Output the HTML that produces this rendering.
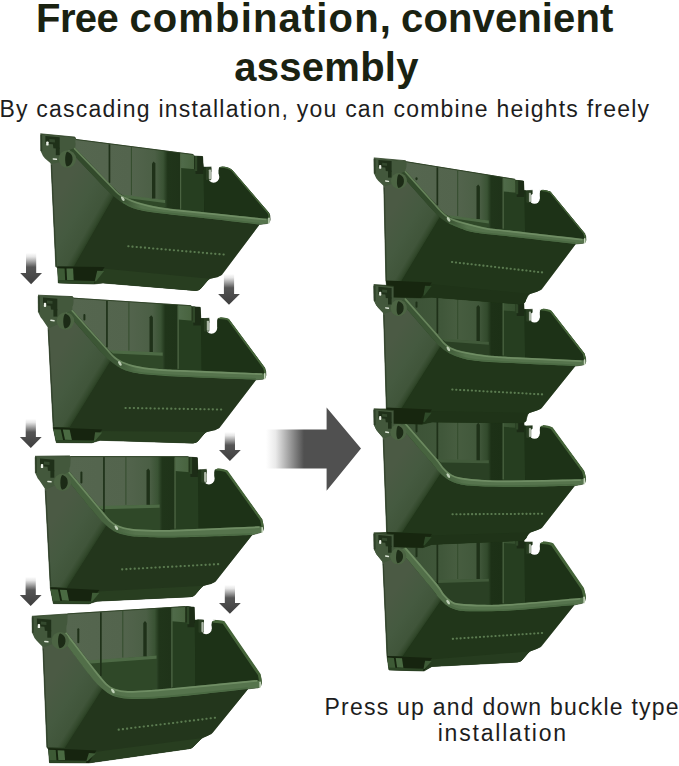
<!DOCTYPE html>
<html><head><meta charset="utf-8"><title>Free combination</title>
<style>
html,body{margin:0;padding:0;background:#fff}
body{width:679px;height:766px;position:relative;overflow:hidden;font-family:"Liberation Sans",sans-serif}
.t{position:absolute;white-space:nowrap;line-height:1}
.h{font-size:40px;font-weight:bold;color:#1a2211;letter-spacing:0.45px}
.s{font-size:23px;color:#1d1d1d;letter-spacing:1.23px}
svg{position:absolute;left:0;top:0}
</style></head><body>
<svg width="679" height="766" viewBox="0 0 679 766">
<g id="L1"><defs><linearGradient id="pL0lf" gradientUnits="userSpaceOnUse" x1="94.2" y1="231.2" x2="52.5" y2="207.4"><stop offset="0" stop-color="#293f22"/><stop offset="0.05" stop-color="#33492c"/><stop offset="0.15" stop-color="#40553a"/><stop offset="0.5" stop-color="#455a40"/><stop offset="1" stop-color="#4b5a44"/></linearGradient><linearGradient id="pL0bk" gradientUnits="userSpaceOnUse" x1="76.0" y1="0" x2="203.3" y2="0"><stop offset="0" stop-color="#55664f"/><stop offset="0.43" stop-color="#53644d"/><stop offset="0.62" stop-color="#4b5f45"/><stop offset="0.685" stop-color="#3a5334"/><stop offset="0.72" stop-color="#20351a"/><stop offset="0.815" stop-color="#1f3319"/><stop offset="0.822" stop-color="#506b4a"/><stop offset="0.925" stop-color="#48633f"/><stop offset="0.93" stop-color="#17260f"/><stop offset="1" stop-color="#17260f"/></linearGradient><linearGradient id="pL0rm" gradientUnits="userSpaceOnUse" x1="118.3" y1="0" x2="141.1" y2="0"><stop offset="0" stop-color="#324a2b"/><stop offset="1" stop-color="#56744d"/></linearGradient></defs>
<polygon points="51.0,163.0 66.6,159.3 75.0,147.8 76.0,139.5 193.0,154.5 194.6,156.0 202.6,156.5 203.3,167.0 205.9,167.2 218.5,166.6 232.0,170.0 269.0,213.1 269.9,215.8 270.2,219.5 269.1,222.6 267.0,223.5 259.3,224.5 221.5,275.0 209.0,278.8 200.0,289.0 196.0,290.5 103.0,283.0 94.0,284.0 58.3,283.0 57.5,267.0 55.8,266.8" fill="#23361c" stroke="#23361c" stroke-width="0.6" stroke-linejoin="round"/>
<polygon points="76.0,139.5 193.0,154.5 194.6,156.0 202.6,156.5 203.3,167.0 205.9,167.2 205.9,218.6 266.0,218.6 190.0,210.8 160.0,207.3 137.1,201.8 125.3,196.8 118.3,192.4 109.4,183.3 75.0,147.8" fill="url(#pL0bk)" />
<polygon points="121.9,195.7 165.1,199.9 165.1,208.9 160.0,208.3 137.1,202.8 125.3,197.8 118.3,193.4" fill="#2f4828" />
<path d="M122.9,194.7 L165.1,199.9 L165.1,203.1 L126.4,197.9Z" fill="#4d6a45" stroke="none" stroke-width="1" />
<polygon points="180.6,168.0 204.3,170.0 204.3,213.3 180.6,210.7" fill="#263e20" />
<rect x="108.6" y="144.3" width="1.7" height="38.5" fill="#1f3119"/>
<rect x="130.9" y="147.1" width="1" height="48.0" fill="#344c2d"/>
<path d="M152.0,198.4 L152.0,163.5 L153.7,161.5 L155.4,163.5 L155.4,198.4Z" fill="#1f3119"/>
<rect x="180.0" y="153.9" width="1.2" height="54.8" fill="#4a6341"/>
<path d="M203.3,167.0 L205.9,167.2 L218.5,169.6 Q218.5,166.6 221.5,166.6 Q229.0,166.9 232.0,170.0 L269.0,213.1 Q270.1,216.5 269.8,219.0 L266.0,218.6 L204.3,213.3 Z" fill="#1d3217" stroke="none" stroke-width="1" />
<path d="M220.5,167.2 Q229.0,167.5 232.0,170.6 L268.4,213.3 Q269.4,216.5 269.2,218.5" fill="none" stroke="#456439" stroke-width="1.3" stroke-linecap="round"/>
<polygon points="194.6,156.0 202.6,156.5 203.3,167.0 203.3,174.0 195.6,174.0" fill="#1c2c16" />
<rect x="194.6" y="156.0" width="2.6" height="15.0" fill="#2f4728"/>
<rect x="211.4" y="163.6" width="7.1" height="13.4" fill="#fff"/>
<circle cx="213.6" cy="177.0" r="5.7" fill="#fff"/>
<path d="M217.9,165.4 L221.7,165.4 L221.7,166.5 Q218.5,166.6 218.4,169.8 L217.9,169.8Z" fill="#fff"/>
<rect x="205.9" y="167.2" width="5.4" height="13.0" rx="1.2" fill="#2a3f23"/>
<rect x="208.8" y="169.4" width="2.3" height="10.0" rx="0.8" fill="#aeb9a9"/>
<polygon points="51.0,163.0 66.6,159.3 69.0,150.0 104.0,187.0 113.6,196.2 114.5,195.5 74.0,266.8 55.8,266.8" fill="url(#pL0lf)" />
<path d="M51.5,165.0 L56.3,266.3" fill="none" stroke="#1f3019" stroke-width="1.1" opacity="0.55"/>
<path d="M114.5,195.5 L113.6,196.2 C115.2,197.4 119.8,201.2 123.0,203.2 C126.2,205.1 128.5,206.7 133.0,208.2 C137.5,209.6 140.5,210.5 150.0,211.9 C159.5,213.3 171.8,214.5 190.0,216.6 C208.2,218.7 247.8,223.2 259.3,224.5 L222.0,274.0 Q220.5,276.0 217.5,277.2 L210.0,278.8 Q208.0,279.3 207.0,281.3 L201.0,288.5 Q199.0,291.0 195.0,290.7 L103.0,283.0 L94.0,283.0 L58.5,269.0 L55.8,266.8 L74.0,266.8 Z" fill="#23361c" stroke="none" stroke-width="1" />
<polygon points="102.6,268.6 210.0,278.8 207.0,281.3 200.5,288.8 198.0,290.4 195.0,290.7 103.0,283.0 94.0,284.0" fill="#283e20" />
<rect x="127.3" y="245.2" width="2.2" height="2.1" rx="0.8" fill="#5b7b50"/><rect x="131.4" y="245.6" width="2.2" height="2.1" rx="0.8" fill="#5b7b50"/><rect x="135.6" y="245.9" width="2.2" height="2.1" rx="0.8" fill="#5b7b50"/><rect x="139.7" y="246.3" width="2.2" height="2.1" rx="0.8" fill="#5b7b50"/><rect x="143.9" y="246.6" width="2.2" height="2.1" rx="0.8" fill="#5b7b50"/><rect x="148.0" y="247.0" width="2.2" height="2.1" rx="0.8" fill="#5b7b50"/><rect x="152.1" y="247.4" width="2.2" height="2.1" rx="0.8" fill="#5b7b50"/><rect x="156.3" y="247.7" width="2.2" height="2.1" rx="0.8" fill="#5b7b50"/><rect x="160.4" y="248.1" width="2.2" height="2.1" rx="0.8" fill="#5b7b50"/><rect x="164.6" y="248.4" width="2.2" height="2.1" rx="0.8" fill="#5b7b50"/><rect x="168.7" y="248.8" width="2.2" height="2.1" rx="0.8" fill="#5b7b50"/><rect x="172.8" y="249.2" width="2.2" height="2.1" rx="0.8" fill="#5b7b50"/><rect x="177.0" y="249.5" width="2.2" height="2.1" rx="0.8" fill="#5b7b50"/><rect x="181.1" y="249.9" width="2.2" height="2.1" rx="0.8" fill="#5b7b50"/><rect x="185.2" y="250.3" width="2.2" height="2.1" rx="0.8" fill="#5b7b50"/><rect x="189.4" y="250.6" width="2.2" height="2.1" rx="0.8" fill="#5b7b50"/><rect x="193.5" y="251.0" width="2.2" height="2.1" rx="0.8" fill="#5b7b50"/><rect x="197.7" y="251.3" width="2.2" height="2.1" rx="0.8" fill="#5b7b50"/><rect x="201.8" y="251.7" width="2.2" height="2.1" rx="0.8" fill="#5b7b50"/><rect x="205.9" y="252.1" width="2.2" height="2.1" rx="0.8" fill="#5b7b50"/><rect x="210.1" y="252.4" width="2.2" height="2.1" rx="0.8" fill="#5b7b50"/><rect x="214.2" y="252.8" width="2.2" height="2.1" rx="0.8" fill="#5b7b50"/><rect x="218.4" y="253.1" width="2.2" height="2.1" rx="0.8" fill="#5b7b50"/><rect x="222.5" y="253.5" width="2.2" height="2.1" rx="0.8" fill="#5b7b50"/>
<polygon points="57.5,266.5 104.6,267.1 94.0,284.0 58.3,283.0" fill="#16240f" />
<polygon points="57.6,268.3 64.6,268.4 65.2,280.8 58.2,280.6" fill="#3d5a35" />
<polygon points="66.5,268.4 73.1,268.5 73.7,280.2 67.1,280.0" fill="#4a6a42" />
<polygon points="58.2,280.1 94.9,281.0 94.1,284.0 58.3,283.0" fill="#2d4626" />
<polygon points="97.2,270.8 104.1,270.9 95.9,281.4 94.7,281.4" fill="#3f5c37" />
<polygon points="40.4,133.8 74.9,137.1 76.0,139.5 75.0,147.8 83.6,156.7 77.8,159.2 69.0,150.0 66.6,159.3 59.6,162.3 51.5,164.0 45.0,158.5 43.0,156.0 40.6,151.0" fill="#43583c" />
<path d="M75.0,147.8 C80.7,153.7 102.2,175.9 109.4,183.3 C116.6,190.7 115.7,190.2 118.3,192.4 C121.0,194.7 122.2,195.2 125.3,196.8 C128.4,198.4 131.3,200.1 137.1,201.8 C142.9,203.6 151.2,205.8 160.0,207.3 C168.8,208.8 172.3,208.9 190.0,210.8 C207.7,212.7 253.3,217.3 266.0,218.6 Q270.2,217.8 270.2,220.2 Q270.4,223.2 267.0,223.5 L259.3,224.5 L259.3,224.5 C247.8,223.2 208.2,218.7 190.0,216.6 C171.8,214.5 159.5,213.3 150.0,211.9 C140.5,210.5 137.5,209.6 133.0,208.2 C128.5,206.7 126.2,205.1 123.0,203.2 C119.8,201.2 116.8,198.9 113.6,196.2 C110.4,193.5 111.4,194.7 104.0,187.0 C96.6,179.3 74.8,156.2 69.0,150.0 Z" fill="url(#pL0rm)" stroke="none" stroke-width="1" />
<path d="M123.0,202.2 C124.7,203.1 128.5,205.8 133.0,207.3 C137.5,208.7 140.5,209.6 150.0,211.0 C159.5,212.4 171.8,213.6 190.0,215.7 C208.2,217.8 247.8,222.3 259.3,223.6" fill="none" stroke="#496841" stroke-width="1.6" opacity="0.8"/>
<path d="M74.6,148.7 C80.3,154.6 101.8,176.8 109.0,184.2 C116.2,191.6 115.2,191.1 117.9,193.3 C120.6,195.6 121.8,196.1 124.9,197.7 C128.0,199.3 130.9,201.0 136.7,202.7 C142.5,204.5 150.8,206.7 159.6,208.2 C168.4,209.7 171.9,209.8 189.6,211.7 C207.3,213.6 252.9,218.2 265.6,219.5" fill="none" stroke="#7a986e" stroke-width="1.7" stroke-linecap="round" opacity="0.7"/>
<ellipse cx="122.8" cy="198.7" rx="1.3" ry="2.6" transform="rotate(-35 122.8 198.7)" fill="#d5e3cc" opacity="0.85"/>
<rect x="268.2" y="217.5" width="1.5" height="6.2" rx="0.7" fill="#d5e3cc" opacity="0.9"/>
<circle cx="67.4" cy="159.0" r="8.7" fill="#4c6443"/>
<path d="M68.0,152.1 A7.7,7.7 0 0 1 66.8,166.6 A2.2,7.3 0 0 1 68.0,152.1Z" fill="#1c2b16"/>
<polygon points="45.4,136.0 59.7,137.3 59.7,148.8 53.4,148.2 52.9,144.3 45.4,143.8" fill="#1f3019" />
<rect x="55.8" y="147.8" width="3.9" height="7.4" fill="#1f3019"/>
<polygon points="49.4,139.0 54.9,139.6 54.9,142.4 49.4,142.0" fill="#34492e" />
<rect x="46.2" y="141.4" width="2.4" height="4.2" rx="0.9" fill="#eef3ea"/>
<rect x="52.6" y="158.3" width="4.6" height="1.5" rx="0.7" fill="#dfe8da" transform="rotate(8 54.4 158.8)"/>
<path d="M41.1,134.8 L41.3,151.0" fill="none" stroke="#1f3019" stroke-width="2.0" opacity="0.6"/>
<path d="M40.4,133.8 L74.9,137.1 L76.0,139.5 L193.0,154.5" fill="none" stroke="#2a3e22" stroke-width="1.0" opacity="0.8"/></g>
<g id="L2"><defs><linearGradient id="pL1lf" gradientUnits="userSpaceOnUse" x1="90.6" y1="393.6" x2="49.7" y2="368.5"><stop offset="0" stop-color="#293f22"/><stop offset="0.05" stop-color="#33492c"/><stop offset="0.15" stop-color="#40553a"/><stop offset="0.5" stop-color="#455a40"/><stop offset="1" stop-color="#4b5a44"/></linearGradient><linearGradient id="pL1bk" gradientUnits="userSpaceOnUse" x1="73.6" y1="0" x2="200.8" y2="0"><stop offset="0" stop-color="#55664f"/><stop offset="0.43" stop-color="#53644d"/><stop offset="0.62" stop-color="#4b5f45"/><stop offset="0.685" stop-color="#3a5334"/><stop offset="0.72" stop-color="#20351a"/><stop offset="0.815" stop-color="#1f3319"/><stop offset="0.822" stop-color="#506b4a"/><stop offset="0.925" stop-color="#48633f"/><stop offset="0.93" stop-color="#17260f"/><stop offset="1" stop-color="#17260f"/></linearGradient><linearGradient id="pL1rm" gradientUnits="userSpaceOnUse" x1="114.9" y1="0" x2="138.6" y2="0"><stop offset="0" stop-color="#3c5635"/><stop offset="1" stop-color="#56744d"/></linearGradient></defs>
<polygon points="48.0,327.6 64.7,321.3 72.6,309.9 73.6,298.2 190.8,305.7 192.4,306.7 200.2,307.3 200.8,318.6 203.9,318.6 217.1,317.6 228.6,319.3 264.7,367.9 265.7,371.4 266.0,375.1 264.8,378.3 262.7,379.2 255.9,379.8 219.1,428.0 205.6,432.1 197.2,441.6 193.2,443.1 100.0,440.3 91.9,442.8 56.3,442.6 53.2,428.0 53.2,426.9" fill="#23361c" stroke="#23361c" stroke-width="0.6" stroke-linejoin="round"/>
<polygon points="73.6,298.2 190.8,305.7 192.4,306.7 200.2,307.3 200.8,318.6 203.9,318.6 203.9,373.3 261.7,373.3 187.1,370.3 157.1,368.8 134.6,365.4 122.4,361.4 114.9,356.6 105.0,345.9 72.6,309.9" fill="url(#pL1bk)" />
<polygon points="108.4,351.3 162.7,352.5 162.7,370.0 157.1,369.8 134.6,366.4 122.4,362.4 114.9,357.6 105.0,346.9" fill="#2f4828" />
<path d="M109.4,350.3 L162.7,352.5 L162.7,355.7 L112.9,353.5Z" fill="#4d6a45" stroke="none" stroke-width="1" />
<polygon points="178.2,319.6 201.8,321.6 201.8,371.9 178.2,370.8" fill="#263e20" />
<rect x="106.1" y="300.8" width="1.7" height="46.7" fill="#1f3119"/>
<rect x="83.4" y="313.9" width="2" height="6.6" rx="1" fill="#1f3119"/>
<rect x="128.4" y="302.3" width="1" height="48.3" fill="#344c2d"/>
<path d="M149.5,352.0 L149.5,317.2 L151.2,315.2 L152.9,317.2 L152.9,352.0Z" fill="#1f3119"/>
<rect x="177.6" y="305.9" width="1.2" height="62.9" fill="#4a6341"/>
<path d="M200.8,318.6 L203.9,318.6 L217.1,320.6 Q217.1,317.6 220.1,317.6 Q225.6,317.9 228.6,319.3 L264.7,367.9 Q265.9,372.1 265.6,374.6 L261.7,373.3 L201.8,371.9 Z" fill="#1d3217" stroke="none" stroke-width="1" />
<path d="M219.1,318.2 Q225.6,318.5 228.6,319.9 L264.1,368.1 Q265.2,372.1 265.0,374.1" fill="none" stroke="#456439" stroke-width="1.8352124352331607" stroke-linecap="round"/>
<polygon points="192.4,306.7 200.2,307.3 200.8,318.6 200.8,325.6 193.4,325.6" fill="#1c2c16" />
<rect x="192.4" y="306.7" width="2.6" height="15.9" fill="#2f4728"/>
<rect x="209.3" y="314.6" width="7.8" height="13.4" fill="#fff"/>
<circle cx="211.5" cy="328.0" r="5.7" fill="#fff"/>
<path d="M216.5,316.4 L220.3,316.4 L220.3,317.5 Q217.1,317.6 217.0,320.8 L216.5,320.8Z" fill="#fff"/>
<rect x="203.9" y="318.6" width="5.4" height="13.0" rx="1.2" fill="#2a3f23"/>
<rect x="206.8" y="320.8" width="2.3" height="10.0" rx="0.8" fill="#aeb9a9"/>
<polygon points="48.0,327.6 64.7,321.3 66.4,312.5 99.5,350.2 110.3,361.0 111.3,360.1 69.9,427.2 53.2,426.9" fill="url(#pL1lf)" />
<path d="M48.5,329.6 L53.7,426.4" fill="none" stroke="#1f3019" stroke-width="1.1" opacity="0.55"/>
<path d="M111.3,360.1 L110.3,361.0 C111.9,362.1 116.6,366.1 120.2,368.0 C123.8,369.9 126.8,371.1 131.9,372.2 C136.9,373.4 141.2,373.9 150.4,374.7 C159.6,375.5 169.5,376.2 187.1,377.1 C204.7,377.9 244.5,379.4 255.9,379.8 L219.6,427.0 Q218.1,429.0 215.1,430.2 L206.6,432.1 Q204.6,432.6 203.6,434.6 L198.2,441.1 Q196.2,443.6 192.2,443.3 L100.0,440.3 L91.9,441.8 L54.2,430.0 L53.2,426.9 L69.9,427.2 Z" fill="#23361c" stroke="none" stroke-width="1" />
<polygon points="100.3,431.0 206.6,432.1 203.6,434.6 197.7,441.4 195.2,443.0 192.2,443.3 100.0,440.3 91.9,442.8" fill="#283e20" />
<rect x="124.5" y="406.9" width="2.2" height="2.1" rx="0.8" fill="#5b7b50"/><rect x="128.7" y="407.0" width="2.2" height="2.1" rx="0.8" fill="#5b7b50"/><rect x="132.8" y="407.0" width="2.2" height="2.1" rx="0.8" fill="#5b7b50"/><rect x="137.0" y="407.1" width="2.2" height="2.1" rx="0.8" fill="#5b7b50"/><rect x="141.1" y="407.2" width="2.2" height="2.1" rx="0.8" fill="#5b7b50"/><rect x="145.3" y="407.2" width="2.2" height="2.1" rx="0.8" fill="#5b7b50"/><rect x="149.4" y="407.3" width="2.2" height="2.1" rx="0.8" fill="#5b7b50"/><rect x="153.6" y="407.4" width="2.2" height="2.1" rx="0.8" fill="#5b7b50"/><rect x="157.7" y="407.4" width="2.2" height="2.1" rx="0.8" fill="#5b7b50"/><rect x="161.9" y="407.5" width="2.2" height="2.1" rx="0.8" fill="#5b7b50"/><rect x="166.0" y="407.6" width="2.2" height="2.1" rx="0.8" fill="#5b7b50"/><rect x="170.2" y="407.6" width="2.2" height="2.1" rx="0.8" fill="#5b7b50"/><rect x="174.3" y="407.7" width="2.2" height="2.1" rx="0.8" fill="#5b7b50"/><rect x="178.5" y="407.8" width="2.2" height="2.1" rx="0.8" fill="#5b7b50"/><rect x="182.7" y="407.8" width="2.2" height="2.1" rx="0.8" fill="#5b7b50"/><rect x="186.8" y="407.9" width="2.2" height="2.1" rx="0.8" fill="#5b7b50"/><rect x="191.0" y="408.0" width="2.2" height="2.1" rx="0.8" fill="#5b7b50"/><rect x="195.1" y="408.0" width="2.2" height="2.1" rx="0.8" fill="#5b7b50"/><rect x="199.3" y="408.1" width="2.2" height="2.1" rx="0.8" fill="#5b7b50"/><rect x="203.4" y="408.2" width="2.2" height="2.1" rx="0.8" fill="#5b7b50"/><rect x="207.6" y="408.2" width="2.2" height="2.1" rx="0.8" fill="#5b7b50"/><rect x="211.7" y="408.3" width="2.2" height="2.1" rx="0.8" fill="#5b7b50"/><rect x="215.9" y="408.4" width="2.2" height="2.1" rx="0.8" fill="#5b7b50"/><rect x="220.0" y="408.4" width="2.2" height="2.1" rx="0.8" fill="#5b7b50"/>
<polygon points="53.2,427.5 102.3,429.5 91.9,442.8 56.3,442.6" fill="#16240f" />
<polygon points="53.4,429.2 60.8,429.4 63.2,440.5 55.8,440.4" fill="#3d5a35" />
<polygon points="62.8,429.5 69.7,429.8 71.9,439.9 65.0,439.8" fill="#4a6a42" />
<polygon points="55.7,440.0 94.0,440.4 93.6,442.8 56.3,442.6" fill="#2d4626" />
<polygon points="95.1,432.3 102.2,432.5 95.1,440.7 93.9,440.7" fill="#3f5c37" />
<polygon points="38.0,295.2 72.5,296.6 73.6,298.2 72.6,309.9 80.7,318.9 74.7,321.9 66.4,312.5 64.7,321.3 57.7,324.3 48.5,328.6 42.6,319.7 40.6,317.2 38.2,312.2" fill="#43583c" />
<path d="M72.6,309.9 C78.0,315.9 97.9,338.1 105.0,345.9 C112.0,353.7 112.0,354.1 114.9,356.6 C117.8,359.2 119.1,359.9 122.4,361.4 C125.7,362.8 128.8,364.2 134.6,365.4 C140.4,366.7 148.3,368.0 157.1,368.8 C165.8,369.6 169.7,369.5 187.1,370.3 C204.5,371.0 249.3,372.8 261.7,373.3 Q266.0,373.4 266.0,375.8 Q266.2,378.9 262.7,379.2 L255.9,379.8 L255.9,379.8 C244.5,379.4 204.7,377.9 187.1,377.1 C169.5,376.2 159.6,375.5 150.4,374.7 C141.2,373.9 136.9,373.4 131.9,372.2 C126.8,371.1 123.8,369.9 120.2,368.0 C116.6,366.1 113.7,363.9 110.3,361.0 C106.8,358.0 106.8,358.3 99.5,350.2 C92.2,342.1 71.9,318.8 66.4,312.5 Z" fill="url(#pL1rm)" stroke="none" stroke-width="1" />
<path d="M120.2,367.1 C122.1,367.8 126.8,370.2 131.9,371.3 C136.9,372.5 141.2,373.0 150.4,373.8 C159.6,374.6 169.5,375.3 187.1,376.2 C204.7,377.0 244.5,378.5 255.9,378.9" fill="none" stroke="#496841" stroke-width="1.6" opacity="0.8"/>
<path d="M72.2,310.8 C77.6,316.8 97.5,339.0 104.6,346.8 C111.6,354.6 111.6,355.0 114.5,357.5 C117.4,360.1 118.7,360.8 122.0,362.3 C125.3,363.7 128.4,365.1 134.2,366.3 C140.0,367.6 147.9,368.9 156.7,369.7 C165.4,370.5 169.3,370.4 186.7,371.2 C204.1,371.9 248.9,373.7 261.3,374.2" fill="none" stroke="#7a986e" stroke-width="1.7" stroke-linecap="round" opacity="0.7"/>
<ellipse cx="119.9" cy="363.4" rx="1.3" ry="2.6" transform="rotate(-35 119.9 363.4)" fill="#d5e3cc" opacity="0.85"/>
<rect x="264.0" y="373.1" width="1.5" height="6.3" rx="0.7" fill="#d5e3cc" opacity="0.9"/>
<circle cx="65.5" cy="321.0" r="8.7" fill="#4c6443"/>
<path d="M66.1,314.1 A7.7,7.7 0 0 1 64.9,328.6 A2.2,7.3 0 0 1 66.1,314.1Z" fill="#1c2b16"/>
<polygon points="43.0,297.4 57.3,298.7 57.3,310.2 51.0,309.6 50.5,305.7 43.0,305.2" fill="#1f3019" />
<rect x="53.4" y="309.2" width="3.9" height="7.4" fill="#1f3019"/>
<polygon points="47.0,300.4 52.5,301.0 52.5,303.8 47.0,303.4" fill="#34492e" />
<rect x="43.8" y="302.8" width="2.4" height="4.2" rx="0.9" fill="#eef3ea"/>
<rect x="50.2" y="319.7" width="4.6" height="1.5" rx="0.7" fill="#dfe8da" transform="rotate(8 52.0 320.2)"/>
<path d="M38.7,296.2 L38.9,312.2" fill="none" stroke="#1f3019" stroke-width="2.0" opacity="0.6"/>
<path d="M38.0,295.2 L72.5,296.6 L73.6,298.2 L190.8,305.7" fill="none" stroke="#2a3e22" stroke-width="1.0" opacity="0.8"/></g>
<g id="L3"><defs><linearGradient id="pL2lf" gradientUnits="userSpaceOnUse" x1="87.2" y1="556.1" x2="46.7" y2="530.4"><stop offset="0" stop-color="#293f22"/><stop offset="0.05" stop-color="#33492c"/><stop offset="0.15" stop-color="#40553a"/><stop offset="0.5" stop-color="#455a40"/><stop offset="1" stop-color="#4b5a44"/></linearGradient><linearGradient id="pL2bk" gradientUnits="userSpaceOnUse" x1="70.6" y1="0" x2="197.8" y2="0"><stop offset="0" stop-color="#55664f"/><stop offset="0.43" stop-color="#53644d"/><stop offset="0.62" stop-color="#4b5f45"/><stop offset="0.685" stop-color="#3a5334"/><stop offset="0.72" stop-color="#20351a"/><stop offset="0.815" stop-color="#1f3319"/><stop offset="0.822" stop-color="#506b4a"/><stop offset="0.925" stop-color="#48633f"/><stop offset="0.93" stop-color="#17260f"/><stop offset="1" stop-color="#17260f"/></linearGradient><linearGradient id="pL2rm" gradientUnits="userSpaceOnUse" x1="110.8" y1="0" x2="135.5" y2="0"><stop offset="0" stop-color="#47633f"/><stop offset="1" stop-color="#56744d"/></linearGradient></defs>
<polygon points="45.1,488.7 61.8,482.4 69.7,471.8 70.6,456.6 187.9,456.7 189.5,457.1 197.3,457.7 197.8,469.9 201.2,469.7 214.2,468.8 226.7,470.9 261.8,519.5 263.2,525.2 263.5,528.9 261.8,531.9 259.7,532.8 252.0,534.9 215.2,581.7 202.7,585.8 194.3,595.3 190.3,596.8 97.0,601.2 89.0,603.8 53.4,603.6 50.3,588.0 50.3,586.9" fill="#23361c" stroke="#23361c" stroke-width="0.6" stroke-linejoin="round"/>
<polygon points="70.6,456.6 187.9,456.7 189.5,457.1 197.3,457.7 197.8,469.9 201.2,469.7 201.2,526.3 259.2,526.3 183.6,529.4 153.6,529.9 131.5,528.8 118.9,525.6 110.8,520.6 99.9,508.1 69.7,471.8" fill="url(#pL2bk)" />
<polygon points="97.0,507.0 159.6,504.6 159.6,530.8 153.6,530.9 131.5,529.8 118.9,526.6 110.8,521.6 99.9,509.1" fill="#2f4828" />
<path d="M98.0,506.0 L159.6,504.6 L159.6,507.8 L101.5,509.2Z" fill="#4d6a45" stroke="none" stroke-width="1" />
<polygon points="175.1,470.9 198.8,472.9 198.8,529.8 175.1,530.6" fill="#263e20" />
<rect x="103.1" y="457.1" width="1.7" height="55.1" fill="#1f3119"/>
<rect x="80.4" y="471.6" width="2" height="11.8" rx="1" fill="#1f3119"/>
<rect x="125.4" y="457.1" width="1" height="47.7" fill="#344c2d"/>
<path d="M146.5,504.8 L146.5,470.6 L148.2,468.6 L149.9,470.6 L149.9,504.8Z" fill="#1f3119"/>
<rect x="174.5" y="457.7" width="1.2" height="70.9" fill="#4a6341"/>
<path d="M197.8,469.9 L201.2,469.7 L214.2,471.8 Q214.2,468.8 217.2,468.8 Q223.7,469.1 226.7,470.9 L261.8,519.5 Q263.4,525.9 263.1,528.4 L259.2,526.3 L198.8,529.8 Z" fill="#1d3217" stroke="none" stroke-width="1" />
<path d="M216.2,469.4 Q223.7,469.7 226.7,471.5 L261.2,519.7 Q262.7,525.9 262.5,527.9" fill="none" stroke="#456439" stroke-width="2.3694300518134717" stroke-linecap="round"/>
<polygon points="189.5,457.1 197.3,457.7 197.8,469.9 197.8,476.9 190.5,476.9" fill="#1c2c16" />
<rect x="189.5" y="457.1" width="2.6" height="16.8" fill="#2f4728"/>
<rect x="206.7" y="465.8" width="7.5" height="13.0" fill="#fff"/>
<circle cx="208.9" cy="478.8" r="5.7" fill="#fff"/>
<path d="M213.6,467.6 L217.4,467.6 L217.4,468.7 Q214.2,468.8 214.1,472.0 L213.6,472.0Z" fill="#fff"/>
<rect x="201.2" y="469.7" width="5.4" height="13.0" rx="1.2" fill="#2a3f23"/>
<rect x="204.1" y="471.9" width="2.3" height="10.0" rx="0.8" fill="#aeb9a9"/>
<polygon points="45.1,488.7 61.8,482.4 63.3,474.7 94.5,513.0 106.3,525.5 107.4,524.3 67.0,587.9 50.3,586.9" fill="url(#pL2lf)" />
<path d="M45.6,490.7 L50.8,586.4" fill="none" stroke="#1f3019" stroke-width="1.1" opacity="0.55"/>
<path d="M107.4,524.3 L106.3,525.5 C108.1,526.6 112.8,530.8 116.7,532.5 C120.7,534.3 124.5,535.2 130.1,536.0 C135.7,536.8 141.4,537.0 150.3,537.2 C159.2,537.4 166.7,537.6 183.6,537.2 C200.5,536.8 240.6,535.3 252.0,534.9 L215.7,580.7 Q214.2,582.7 211.2,583.9 L203.7,585.8 Q201.7,586.3 200.7,588.3 L195.3,594.8 Q193.3,597.3 189.3,597.0 L97.0,601.2 L89.0,602.8 L51.3,590.0 L50.3,586.9 L67.0,587.9 Z" fill="#23361c" stroke="none" stroke-width="1" />
<polygon points="97.4,591.4 203.7,585.8 200.7,588.3 194.8,595.1 192.3,596.7 189.3,597.0 97.0,601.2 89.0,603.8" fill="#283e20" />
<rect x="121.1" y="568.3" width="2.2" height="2.1" rx="0.8" fill="#5b7b50"/><rect x="125.3" y="568.1" width="2.2" height="2.1" rx="0.8" fill="#5b7b50"/><rect x="129.4" y="567.8" width="2.2" height="2.1" rx="0.8" fill="#5b7b50"/><rect x="133.6" y="567.6" width="2.2" height="2.1" rx="0.8" fill="#5b7b50"/><rect x="137.8" y="567.4" width="2.2" height="2.1" rx="0.8" fill="#5b7b50"/><rect x="141.9" y="567.2" width="2.2" height="2.1" rx="0.8" fill="#5b7b50"/><rect x="146.1" y="566.9" width="2.2" height="2.1" rx="0.8" fill="#5b7b50"/><rect x="150.3" y="566.7" width="2.2" height="2.1" rx="0.8" fill="#5b7b50"/><rect x="154.4" y="566.5" width="2.2" height="2.1" rx="0.8" fill="#5b7b50"/><rect x="158.6" y="566.3" width="2.2" height="2.1" rx="0.8" fill="#5b7b50"/><rect x="162.8" y="566.0" width="2.2" height="2.1" rx="0.8" fill="#5b7b50"/><rect x="166.9" y="565.8" width="2.2" height="2.1" rx="0.8" fill="#5b7b50"/><rect x="171.1" y="565.6" width="2.2" height="2.1" rx="0.8" fill="#5b7b50"/><rect x="175.3" y="565.4" width="2.2" height="2.1" rx="0.8" fill="#5b7b50"/><rect x="179.5" y="565.1" width="2.2" height="2.1" rx="0.8" fill="#5b7b50"/><rect x="183.6" y="564.9" width="2.2" height="2.1" rx="0.8" fill="#5b7b50"/><rect x="187.8" y="564.7" width="2.2" height="2.1" rx="0.8" fill="#5b7b50"/><rect x="192.0" y="564.5" width="2.2" height="2.1" rx="0.8" fill="#5b7b50"/><rect x="196.1" y="564.2" width="2.2" height="2.1" rx="0.8" fill="#5b7b50"/><rect x="200.3" y="564.0" width="2.2" height="2.1" rx="0.8" fill="#5b7b50"/><rect x="204.5" y="563.8" width="2.2" height="2.1" rx="0.8" fill="#5b7b50"/><rect x="208.6" y="563.6" width="2.2" height="2.1" rx="0.8" fill="#5b7b50"/><rect x="212.8" y="563.3" width="2.2" height="2.1" rx="0.8" fill="#5b7b50"/><rect x="217.0" y="563.1" width="2.2" height="2.1" rx="0.8" fill="#5b7b50"/>
<polygon points="50.3,587.5 99.4,589.9 89.0,603.8 53.4,603.6" fill="#16240f" />
<polygon points="50.5,589.2 57.9,589.6 60.3,601.3 52.9,601.3" fill="#3d5a35" />
<polygon points="59.9,589.7 66.8,590.0 69.0,600.7 62.1,600.6" fill="#4a6a42" />
<polygon points="52.8,600.8 91.1,601.3 90.7,603.8 53.4,603.6" fill="#2d4626" />
<polygon points="92.2,592.8 99.3,593.1 92.2,601.6 91.0,601.6" fill="#3f5c37" />
<polygon points="35.0,456.3 69.6,455.9 70.6,456.6 69.7,471.8 77.2,480.9 71.1,484.3 63.3,474.7 61.8,482.4 54.8,485.4 45.6,489.7 39.6,480.7 37.6,478.2 35.2,473.0" fill="#43583c" />
<path d="M69.7,471.8 C74.7,477.8 93.1,500.0 99.9,508.1 C106.8,516.3 107.7,517.7 110.8,520.6 C114.0,523.5 115.5,524.3 118.9,525.6 C122.3,527.0 125.7,528.1 131.5,528.8 C137.3,529.5 144.9,529.8 153.6,529.9 C162.3,530.0 166.0,530.0 183.6,529.4 C201.2,528.8 246.6,526.8 259.2,526.3 Q263.5,527.2 263.5,529.6 Q263.7,532.5 259.7,532.8 L252.0,534.9 L252.0,534.9 C240.6,535.3 200.5,536.8 183.6,537.2 C166.7,537.6 159.2,537.4 150.3,537.2 C141.4,537.0 135.7,536.8 130.1,536.0 C124.5,535.2 120.7,534.3 116.7,532.5 C112.8,530.8 110.0,528.7 106.3,525.5 C102.6,522.2 101.6,521.5 94.5,513.0 C87.3,504.6 68.5,481.1 63.3,474.7 Z" fill="url(#pL2rm)" stroke="none" stroke-width="1" />
<path d="M116.7,531.6 C119.0,532.2 124.5,534.3 130.1,535.1 C135.7,535.9 141.4,536.1 150.3,536.3 C159.2,536.5 166.7,536.7 183.6,536.3 C200.5,535.9 240.6,534.4 252.0,534.0" fill="none" stroke="#496841" stroke-width="1.6" opacity="0.8"/>
<path d="M69.3,472.7 C74.3,478.7 92.7,500.9 99.5,509.0 C106.4,517.2 107.3,518.6 110.4,521.5 C113.6,524.4 115.1,525.2 118.5,526.5 C121.9,527.9 125.3,529.0 131.1,529.7 C136.9,530.4 144.5,530.7 153.2,530.8 C161.9,530.9 165.6,530.9 183.2,530.3 C200.8,529.7 246.2,527.7 258.8,527.2" fill="none" stroke="#7a986e" stroke-width="1.7" stroke-linecap="round" opacity="0.7"/>
<ellipse cx="116.4" cy="527.7" rx="1.3" ry="2.6" transform="rotate(-35 116.4 527.7)" fill="#d5e3cc" opacity="0.85"/>
<rect x="261.5" y="526.9" width="1.5" height="6.1" rx="0.7" fill="#d5e3cc" opacity="0.9"/>
<circle cx="62.6" cy="482.1" r="8.7" fill="#4c6443"/>
<path d="M63.2,475.2 A7.7,7.7 0 0 1 62.0,489.7 A2.2,7.3 0 0 1 63.2,475.2Z" fill="#1c2b16"/>
<polygon points="40.0,458.5 54.3,459.8 54.3,471.3 48.0,470.7 47.5,466.8 40.0,466.3" fill="#1f3019" />
<rect x="50.4" y="470.3" width="3.9" height="7.4" fill="#1f3019"/>
<polygon points="44.0,461.5 49.5,462.1 49.5,464.9 44.0,464.5" fill="#34492e" />
<rect x="40.8" y="463.9" width="2.4" height="4.2" rx="0.9" fill="#eef3ea"/>
<rect x="47.2" y="480.8" width="4.6" height="1.5" rx="0.7" fill="#dfe8da" transform="rotate(8 49.0 481.3)"/>
<path d="M35.7,457.3 L35.9,473.0" fill="none" stroke="#1f3019" stroke-width="2.0" opacity="0.6"/>
<path d="M35.0,456.3 L69.6,455.9 L70.6,456.6 L187.9,456.7" fill="none" stroke="#2a3e22" stroke-width="1.0" opacity="0.8"/></g>
<g id="L4"><defs><linearGradient id="pL3lf" gradientUnits="userSpaceOnUse" x1="84.2" y1="717.8" x2="43.8" y2="692.0"><stop offset="0" stop-color="#293f22"/><stop offset="0.05" stop-color="#33492c"/><stop offset="0.15" stop-color="#40553a"/><stop offset="0.5" stop-color="#455a40"/><stop offset="1" stop-color="#4b5a44"/></linearGradient><linearGradient id="pL3bk" gradientUnits="userSpaceOnUse" x1="67.5" y1="0" x2="194.6" y2="0"><stop offset="0" stop-color="#55664f"/><stop offset="0.43" stop-color="#53644d"/><stop offset="0.62" stop-color="#4b5f45"/><stop offset="0.685" stop-color="#3a5334"/><stop offset="0.72" stop-color="#20351a"/><stop offset="0.815" stop-color="#1f3319"/><stop offset="0.822" stop-color="#506b4a"/><stop offset="0.925" stop-color="#48633f"/><stop offset="0.93" stop-color="#17260f"/><stop offset="1" stop-color="#17260f"/></linearGradient><linearGradient id="pL3rm" gradientUnits="userSpaceOnUse" x1="106.7" y1="0" x2="132.3" y2="0"><stop offset="0" stop-color="#526f49"/><stop offset="1" stop-color="#56744d"/></linearGradient></defs>
<polygon points="42.8,646.6 59.5,641.0 66.6,632.5 67.5,613.9 185.0,606.6 186.6,606.5 194.2,607.2 194.6,620.2 198.5,619.8 211.5,620.6 223.4,621.7 259.8,674.3 261.1,679.8 261.4,683.5 260.1,686.9 258.0,687.8 247.9,688.9 211.8,733.5 201.6,738.0 192.5,747.3 188.5,748.8 92.0,762.5 88.9,762.9 49.5,762.7 48.4,748.7 46.9,747.4" fill="#23361c" stroke="#23361c" stroke-width="0.6" stroke-linejoin="round"/>
<polygon points="67.5,613.9 185.0,606.6 186.6,606.5 194.2,607.2 194.6,620.2 198.5,619.8 198.5,680.0 257.0,680.0 180.0,687.5 150.0,690.0 128.3,691.0 115.3,688.8 106.7,683.4 94.8,669.3 66.6,632.5" fill="url(#pL3bk)" />
<polygon points="86.5,661.4 156.5,655.5 156.5,690.5 150.0,691.0 128.3,692.0 115.3,689.8 106.7,684.4 94.8,670.3" fill="#2f4828" />
<path d="M87.5,660.4 L156.5,655.5 L156.5,658.7 L91.0,663.6Z" fill="#4d6a45" stroke="none" stroke-width="1" />
<polygon points="172.0,621.2 195.6,623.2 195.6,687.0 172.0,689.2" fill="#263e20" />
<rect x="100.0" y="612.3" width="1.7" height="63.6" fill="#1f3119"/>
<rect x="77.3" y="628.2" width="2" height="15.0" rx="1" fill="#1f3119"/>
<rect x="122.3" y="611.0" width="1" height="46.5" fill="#344c2d"/>
<path d="M143.3,656.3 L143.3,623.1 L145.0,621.1 L146.7,623.1 L146.7,656.3Z" fill="#1f3119"/>
<rect x="171.4" y="608.4" width="1.2" height="78.8" fill="#4a6341"/>
<path d="M194.6,620.2 L198.5,619.8 L211.5,623.6 Q211.5,620.6 214.5,620.6 Q220.4,620.9 223.4,621.7 L259.8,674.3 Q261.3,680.5 261.0,683.0 L257.0,680.0 L195.6,687.0 Z" fill="#1d3217" stroke="none" stroke-width="1" />
<path d="M213.5,621.2 Q220.4,621.5 223.4,622.3 L259.2,674.5 Q260.6,680.5 260.4,682.5" fill="none" stroke="#456439" stroke-width="2.9000000000000004" stroke-linecap="round"/>
<polygon points="186.6,606.5 194.2,607.2 194.6,620.2 194.6,627.2 187.6,627.2" fill="#1c2c16" />
<rect x="186.6" y="606.5" width="2.6" height="17.7" fill="#2f4728"/>
<rect x="203.9" y="617.6" width="7.6" height="10.9" fill="#fff"/>
<circle cx="206.1" cy="628.5" r="5.7" fill="#fff"/>
<path d="M210.9,619.4 L214.7,619.4 L214.7,620.5 Q211.5,620.6 211.4,623.8 L210.9,623.8Z" fill="#fff"/>
<rect x="198.5" y="619.8" width="5.4" height="13.0" rx="1.2" fill="#2a3f23"/>
<rect x="201.4" y="622.0" width="2.3" height="10.0" rx="0.8" fill="#aeb9a9"/>
<polygon points="42.8,646.6 59.5,641.0 60.0,635.8 89.3,674.8 102.3,688.8 103.5,687.5 65.0,748.0 46.9,747.4" fill="url(#pL3lf)" />
<path d="M43.3,648.6 L47.4,746.9" fill="none" stroke="#1f3019" stroke-width="1.1" opacity="0.55"/>
<path d="M103.5,687.5 L102.3,688.8 C104.1,690.0 108.9,694.3 113.2,695.9 C117.5,697.6 122.2,698.2 128.3,698.7 C134.4,699.1 141.4,699.0 150.0,698.6 C158.6,698.2 163.7,697.9 180.0,696.3 C196.3,694.7 236.6,690.1 247.9,688.9 L212.3,732.5 Q210.8,734.5 207.8,735.7 L202.6,738.0 Q200.6,738.5 199.6,740.5 L193.5,746.8 Q191.5,749.3 187.5,749.0 L92.0,762.5 L88.9,761.9 L49.4,750.7 L46.9,747.4 L65.0,748.0 Z" fill="#23361c" stroke="none" stroke-width="1" />
<polygon points="94.3,752.0 202.6,738.0 199.6,740.5 193.0,747.1 190.5,748.7 187.5,749.0 92.0,762.5 88.9,762.9" fill="#283e20" />
<rect x="117.6" y="728.6" width="2.2" height="2.1" rx="0.8" fill="#5b7b50"/><rect x="121.8" y="728.1" width="2.2" height="2.1" rx="0.8" fill="#5b7b50"/><rect x="126.0" y="727.6" width="2.2" height="2.1" rx="0.8" fill="#5b7b50"/><rect x="130.1" y="727.0" width="2.2" height="2.1" rx="0.8" fill="#5b7b50"/><rect x="134.3" y="726.5" width="2.2" height="2.1" rx="0.8" fill="#5b7b50"/><rect x="138.5" y="726.0" width="2.2" height="2.1" rx="0.8" fill="#5b7b50"/><rect x="142.7" y="725.5" width="2.2" height="2.1" rx="0.8" fill="#5b7b50"/><rect x="146.9" y="725.0" width="2.2" height="2.1" rx="0.8" fill="#5b7b50"/><rect x="151.1" y="724.5" width="2.2" height="2.1" rx="0.8" fill="#5b7b50"/><rect x="155.2" y="723.9" width="2.2" height="2.1" rx="0.8" fill="#5b7b50"/><rect x="159.4" y="723.4" width="2.2" height="2.1" rx="0.8" fill="#5b7b50"/><rect x="163.6" y="722.9" width="2.2" height="2.1" rx="0.8" fill="#5b7b50"/><rect x="167.8" y="722.4" width="2.2" height="2.1" rx="0.8" fill="#5b7b50"/><rect x="172.0" y="721.9" width="2.2" height="2.1" rx="0.8" fill="#5b7b50"/><rect x="176.2" y="721.4" width="2.2" height="2.1" rx="0.8" fill="#5b7b50"/><rect x="180.3" y="720.8" width="2.2" height="2.1" rx="0.8" fill="#5b7b50"/><rect x="184.5" y="720.3" width="2.2" height="2.1" rx="0.8" fill="#5b7b50"/><rect x="188.7" y="719.8" width="2.2" height="2.1" rx="0.8" fill="#5b7b50"/><rect x="192.9" y="719.3" width="2.2" height="2.1" rx="0.8" fill="#5b7b50"/><rect x="197.1" y="718.8" width="2.2" height="2.1" rx="0.8" fill="#5b7b50"/><rect x="201.3" y="718.3" width="2.2" height="2.1" rx="0.8" fill="#5b7b50"/><rect x="205.4" y="717.7" width="2.2" height="2.1" rx="0.8" fill="#5b7b50"/><rect x="209.6" y="717.2" width="2.2" height="2.1" rx="0.8" fill="#5b7b50"/><rect x="213.8" y="716.7" width="2.2" height="2.1" rx="0.8" fill="#5b7b50"/>
<polygon points="48.4,748.2 96.3,750.5 88.9,762.9 49.5,762.7" fill="#16240f" />
<polygon points="48.5,749.8 55.7,750.1 56.5,760.7 49.3,760.6" fill="#3d5a35" />
<polygon points="57.6,750.2 64.3,750.5 65.1,760.1 58.4,760.0" fill="#4a6a42" />
<polygon points="49.3,760.2 86.7,760.7 85.9,762.9 49.5,762.7" fill="#2d4626" />
<polygon points="88.9,753.1 95.8,753.4 87.6,760.9 86.4,760.9" fill="#3f5c37" />
<polygon points="31.9,616.3 66.5,614.0 67.5,613.9 66.6,632.5 73.6,641.7 67.3,645.5 60.0,635.8 59.5,641.0 52.5,644.0 43.3,647.6 36.5,640.5 34.5,638.0 32.1,632.8" fill="#43583c" />
<path d="M66.6,632.5 C71.3,638.6 88.1,660.8 94.8,669.3 C101.5,677.8 103.3,680.1 106.7,683.4 C110.1,686.6 111.7,687.5 115.3,688.8 C118.9,690.1 122.5,690.8 128.3,691.0 C134.1,691.2 141.4,690.6 150.0,690.0 C158.6,689.4 162.2,689.2 180.0,687.5 C197.8,685.8 244.2,681.2 257.0,680.0 Q261.4,681.8 261.4,684.2 Q261.6,687.5 258.0,687.8 L247.9,688.9 L247.9,688.9 C236.6,690.1 196.3,694.7 180.0,696.3 C163.7,697.9 158.6,698.2 150.0,698.6 C141.4,699.0 134.4,699.1 128.3,698.7 C122.2,698.2 117.5,697.6 113.2,695.9 C108.9,694.3 106.3,692.3 102.3,688.8 C98.3,685.3 96.3,683.6 89.3,674.8 C82.2,666.0 64.9,642.3 60.0,635.8 Z" fill="url(#pL3rm)" stroke="none" stroke-width="1" />
<path d="M113.2,695.0 C115.7,695.5 122.2,697.3 128.3,697.8 C134.4,698.2 141.4,698.1 150.0,697.7 C158.6,697.3 163.7,697.0 180.0,695.4 C196.3,693.8 236.6,689.2 247.9,688.0" fill="none" stroke="#496841" stroke-width="1.6" opacity="0.8"/>
<path d="M66.2,633.4 C70.9,639.5 87.7,661.7 94.4,670.2 C101.1,678.7 102.9,681.0 106.3,684.3 C109.7,687.5 111.3,688.4 114.9,689.7 C118.5,691.0 122.1,691.7 127.9,691.9 C133.7,692.1 141.0,691.5 149.6,690.9 C158.2,690.3 161.8,690.1 179.6,688.4 C197.4,686.7 243.8,682.1 256.6,680.9" fill="none" stroke="#7a986e" stroke-width="1.7" stroke-linecap="round" opacity="0.7"/>
<ellipse cx="112.9" cy="691.0" rx="1.3" ry="2.6" transform="rotate(-35 112.9 691.0)" fill="#d5e3cc" opacity="0.85"/>
<rect x="259.4" y="681.5" width="1.5" height="6.5" rx="0.7" fill="#d5e3cc" opacity="0.9"/>
<circle cx="60.3" cy="640.7" r="8.7" fill="#4c6443"/>
<path d="M60.9,633.8 A7.7,7.7 0 0 1 59.7,648.3 A2.2,7.3 0 0 1 60.9,633.8Z" fill="#1c2b16"/>
<polygon points="36.9,618.5 51.2,619.8 51.2,631.3 44.9,630.7 44.4,626.8 36.9,626.3" fill="#1f3019" />
<rect x="47.3" y="630.3" width="3.9" height="7.4" fill="#1f3019"/>
<polygon points="40.9,621.5 46.4,622.1 46.4,624.9 40.9,624.5" fill="#34492e" />
<rect x="37.7" y="623.9" width="2.4" height="4.2" rx="0.9" fill="#eef3ea"/>
<rect x="44.1" y="640.8" width="4.6" height="1.5" rx="0.7" fill="#dfe8da" transform="rotate(8 45.9 641.3)"/>
<path d="M32.6,617.3 L32.8,632.8" fill="none" stroke="#1f3019" stroke-width="2.0" opacity="0.6"/>
<path d="M31.9,616.3 L66.5,614.0 L67.5,613.9 L185.0,606.6" fill="none" stroke="#2a3e22" stroke-width="1.0" opacity="0.8"/></g>
<g id="R4"><defs><linearGradient id="pR3lf" gradientUnits="userSpaceOnUse" x1="422.6" y1="627.5" x2="386.2" y2="602.5"><stop offset="0" stop-color="#293f22"/><stop offset="0.05" stop-color="#33492c"/><stop offset="0.15" stop-color="#40553a"/><stop offset="0.5" stop-color="#455a40"/><stop offset="1" stop-color="#4b5a44"/></linearGradient><linearGradient id="pR3bk" gradientUnits="userSpaceOnUse" x1="406.5" y1="0" x2="524.1" y2="0"><stop offset="0" stop-color="#3c5236"/><stop offset="0.3" stop-color="#40573a"/><stop offset="0.43" stop-color="#475d40"/><stop offset="0.62" stop-color="#40573a"/><stop offset="0.685" stop-color="#324a2c"/><stop offset="0.72" stop-color="#1d3117"/><stop offset="0.815" stop-color="#1c3016"/><stop offset="0.822" stop-color="#3c5635"/><stop offset="0.925" stop-color="#36502f"/><stop offset="0.93" stop-color="#17260f"/><stop offset="1" stop-color="#17260f"/></linearGradient><linearGradient id="pR3rm" gradientUnits="userSpaceOnUse" x1="444.0" y1="0" x2="463.1" y2="0"><stop offset="0" stop-color="#526f49"/><stop offset="1" stop-color="#56744d"/></linearGradient></defs>
<polygon points="382.8,561.8 397.4,556.6 405.8,547.2 406.5,531.5 514.7,528.5 515.8,528.5 523.5,529.0 524.1,542.0 526.2,542.0 539.8,542.0 552.4,544.0 583.2,588.5 585.1,594.8 585.4,598.5 584.1,602.4 582.0,603.3 574.2,605.0 540.8,646.8 529.5,651.3 521.3,660.6 517.3,662.1 431.9,666.5 424.0,671.0 389.0,670.0 387.0,656.5 387.0,656.5" fill="#21361a" stroke="#21361a" stroke-width="0.6" stroke-linejoin="round"/>
<polygon points="406.5,531.5 514.7,528.5 515.8,528.5 523.5,529.0 524.1,542.0 526.2,542.0 526.2,598.0 580.0,598.0 510.0,604.0 485.0,604.8 459.1,603.5 451.0,600.5 444.0,594.0 436.1,582.7 405.8,547.2" fill="url(#pR3bk)" />
<polygon points="432.8,581.1 488.8,578.7 488.8,605.7 485.0,605.8 459.1,604.5 451.0,601.5 444.0,595.0 436.1,583.7" fill="#2a4024" />
<path d="M433.8,580.1 L488.8,578.7 L488.8,581.6 L437.3,583.1Z" fill="#415a3a" stroke="none" stroke-width="1" />
<polygon points="503.2,542.9 525.1,544.8 525.1,603.7 503.2,605.2" fill="#263e20" />
<rect x="436.5" y="531.1" width="1.7" height="52.8" fill="#1f3119"/>
<rect x="415.5" y="545.0" width="2" height="12.2" rx="1" fill="#1f3119"/>
<rect x="457.2" y="530.6" width="1" height="48.4" fill="#344c2d"/>
<path d="M476.5,579.0 L476.5,542.6 L478.2,540.6 L479.9,542.6 L479.9,579.0Z" fill="#1f3119"/>
<rect x="502.6" y="529.8" width="1.2" height="73.4" fill="#4a6341"/>
<path d="M524.1,542.0 L526.2,542.0 L539.8,545.0 Q539.8,542.0 542.8,542.0 Q549.4,542.3 552.4,544.0 L583.2,588.5 Q585.3,595.5 585.0,598.0 L580.0,598.0 L525.1,603.7 Z" fill="#1d3217" stroke="none" stroke-width="1" />
<path d="M541.8,542.6 Q549.4,542.9 552.4,544.6 L582.6,588.7 Q584.6,595.5 584.4,597.5" fill="none" stroke="#456439" stroke-width="2.9000000000000004" stroke-linecap="round"/>
<polygon points="515.8,528.5 523.5,529.0 524.1,542.0 524.1,548.4 516.8,548.4" fill="#1c2c16" />
<rect x="515.8" y="528.5" width="2.4" height="17.2" fill="#2f4728"/>
<rect x="532.6" y="539.0" width="7.2" height="10.5" fill="#fff"/>
<circle cx="534.6" cy="549.5" r="5.2" fill="#fff"/>
<path d="M539.2,540.8 L543.0,540.8 L543.0,541.9 Q539.8,542.0 539.7,545.2 L539.2,545.2Z" fill="#fff"/>
<rect x="526.2" y="542.0" width="5.0" height="12.0" rx="1.2" fill="#2a3f23"/>
<rect x="528.9" y="544.0" width="2.1" height="9.2" rx="0.8" fill="#aeb9a9"/>
<polygon points="382.8,561.8 397.4,556.6 400.0,550.5 430.5,587.0 439.5,598.6 442.5,598.5 402.6,656.5 387.0,656.5" fill="url(#pR3lf)" />
<path d="M383.3,563.8 L387.5,656.0" fill="none" stroke="#1f3019" stroke-width="1.1" opacity="0.55"/>
<path d="M442.5,598.5 L439.5,598.6 C440.9,599.9 444.8,604.4 448.0,606.3 C451.2,608.3 454.5,609.7 459.0,610.5 C463.5,611.3 466.5,611.3 475.0,611.3 C483.5,611.3 493.5,611.7 510.0,610.6 C526.5,609.5 563.5,605.9 574.2,605.0 L541.3,645.8 Q539.8,647.8 536.8,649.0 L530.5,651.3 Q528.5,651.8 527.5,653.8 L522.3,660.1 Q520.3,662.6 516.3,662.3 L431.9,666.5 L424.0,670.0 L388.0,658.5 L387.0,656.5 L402.6,656.5 Z" fill="#21361a" stroke="none" stroke-width="1" />
<polygon points="429.9,659.5 530.5,651.3 527.5,653.8 521.8,660.4 519.3,662.0 516.3,662.3 431.9,666.5 424.0,671.0" fill="#263c1f" />
<rect x="451.8" y="637.8" width="2.2" height="2.1" rx="0.8" fill="#5b7b50"/><rect x="455.7" y="637.5" width="2.2" height="2.1" rx="0.8" fill="#5b7b50"/><rect x="459.5" y="637.3" width="2.2" height="2.1" rx="0.8" fill="#5b7b50"/><rect x="463.4" y="637.0" width="2.2" height="2.1" rx="0.8" fill="#5b7b50"/><rect x="467.3" y="636.8" width="2.2" height="2.1" rx="0.8" fill="#5b7b50"/><rect x="471.2" y="636.5" width="2.2" height="2.1" rx="0.8" fill="#5b7b50"/><rect x="475.0" y="636.3" width="2.2" height="2.1" rx="0.8" fill="#5b7b50"/><rect x="478.9" y="636.0" width="2.2" height="2.1" rx="0.8" fill="#5b7b50"/><rect x="482.8" y="635.7" width="2.2" height="2.1" rx="0.8" fill="#5b7b50"/><rect x="486.7" y="635.5" width="2.2" height="2.1" rx="0.8" fill="#5b7b50"/><rect x="490.5" y="635.2" width="2.2" height="2.1" rx="0.8" fill="#5b7b50"/><rect x="494.4" y="635.0" width="2.2" height="2.1" rx="0.8" fill="#5b7b50"/><rect x="498.3" y="634.7" width="2.2" height="2.1" rx="0.8" fill="#5b7b50"/><rect x="502.2" y="634.5" width="2.2" height="2.1" rx="0.8" fill="#5b7b50"/><rect x="506.0" y="634.2" width="2.2" height="2.1" rx="0.8" fill="#5b7b50"/><rect x="509.9" y="634.0" width="2.2" height="2.1" rx="0.8" fill="#5b7b50"/><rect x="513.8" y="633.7" width="2.2" height="2.1" rx="0.8" fill="#5b7b50"/><rect x="517.7" y="633.4" width="2.2" height="2.1" rx="0.8" fill="#5b7b50"/><rect x="521.5" y="633.2" width="2.2" height="2.1" rx="0.8" fill="#5b7b50"/><rect x="525.4" y="632.9" width="2.2" height="2.1" rx="0.8" fill="#5b7b50"/><rect x="529.3" y="632.7" width="2.2" height="2.1" rx="0.8" fill="#5b7b50"/><rect x="533.2" y="632.4" width="2.2" height="2.1" rx="0.8" fill="#5b7b50"/><rect x="537.0" y="632.2" width="2.2" height="2.1" rx="0.8" fill="#5b7b50"/><rect x="540.9" y="631.9" width="2.2" height="2.1" rx="0.8" fill="#5b7b50"/>
<polygon points="387.0,656.0 431.9,658.0 424.0,671.0 389.0,670.0" fill="#16240f" />
<polygon points="387.2,657.6 393.9,657.9 395.4,668.2 388.7,668.0" fill="#3d5a35" />
<polygon points="395.7,657.9 402.0,658.2 403.4,667.8 397.1,667.6" fill="#4a6a42" />
<polygon points="388.6,667.6 423.7,668.7 423.1,671.0 389.0,670.0" fill="#2d4626" />
<polygon points="425.1,660.7 431.6,661.0 424.6,668.9 423.5,668.9" fill="#3f5c37" />
<polygon points="373.8,533.0 405.5,531.6 406.5,531.5 405.8,547.2 413.4,556.1 407.6,559.6 400.0,550.5 397.4,556.6 391.0,559.4 383.3,562.8 378.2,556.5 376.2,554.0 374.0,549.3" fill="#43583c" />
<path d="M405.8,547.2 C410.9,553.1 429.7,574.9 436.1,582.7 C442.5,590.5 441.5,591.0 444.0,594.0 C446.5,597.0 448.5,598.9 451.0,600.5 C453.5,602.1 453.4,602.8 459.1,603.5 C464.8,604.2 476.5,604.7 485.0,604.8 C493.5,604.9 494.2,605.1 510.0,604.0 C525.8,602.9 568.3,599.0 580.0,598.0 Q585.4,596.8 585.4,599.2 Q585.6,603.0 582.0,603.3 L574.2,605.0 L574.2,605.0 C563.5,605.9 526.5,609.5 510.0,610.6 C493.5,611.7 483.5,611.3 475.0,611.3 C466.5,611.3 463.5,611.3 459.0,610.5 C454.5,609.7 451.2,608.3 448.0,606.3 C444.8,604.4 442.4,601.8 439.5,598.6 C436.6,595.4 437.1,595.0 430.5,587.0 C423.9,579.0 405.1,556.6 400.0,550.5 Z" fill="url(#pR3rm)" stroke="none" stroke-width="1" />
<path d="M448.0,605.4 C449.8,606.1 454.5,608.8 459.0,609.6 C463.5,610.4 466.5,610.4 475.0,610.4 C483.5,610.4 493.5,610.8 510.0,609.7 C526.5,608.7 563.5,605.0 574.2,604.1" fill="none" stroke="#496841" stroke-width="1.6" opacity="0.8"/>
<path d="M405.4,548.1 C410.5,554.0 429.3,575.8 435.7,583.6 C442.1,591.4 441.1,591.9 443.6,594.9 C446.1,597.9 448.1,599.8 450.6,601.4 C453.1,603.0 453.0,603.7 458.7,604.4 C464.4,605.1 476.1,605.6 484.6,605.7 C493.1,605.8 493.8,606.0 509.6,604.9 C525.4,603.8 567.9,599.9 579.6,598.9" fill="none" stroke="#7a986e" stroke-width="1.7" stroke-linecap="round" opacity="0.7"/>
<ellipse cx="448.1" cy="602.1" rx="1.3" ry="2.6" transform="rotate(-35 448.1 602.1)" fill="#d5e3cc" opacity="0.85"/>
<rect x="583.4" y="596.5" width="1.5" height="7.0" rx="0.7" fill="#d5e3cc" opacity="0.9"/>
<circle cx="398.1" cy="556.3" r="8.0" fill="#4c6443"/>
<path d="M398.7,550.0 A7.0,7.0 0 0 1 397.6,563.3 A2.0,6.7 0 0 1 398.7,550.0Z" fill="#1c2b16"/>
<polygon points="378.4,535.0 391.6,536.2 391.6,546.8 385.8,546.2 385.3,542.7 378.4,542.2" fill="#1f3019" />
<rect x="388.0" y="545.9" width="3.6" height="6.8" fill="#1f3019"/>
<polygon points="382.1,537.8 387.1,538.3 387.1,540.9 382.1,540.5" fill="#34492e" />
<rect x="379.1" y="540.0" width="2.2" height="3.9" rx="0.9" fill="#eef3ea"/>
<rect x="385.0" y="555.5" width="4.2" height="1.4" rx="0.7" fill="#dfe8da" transform="rotate(8 386.7 556.0)"/>
<path d="M374.5,534.0 L374.7,549.3" fill="none" stroke="#1f3019" stroke-width="2.0" opacity="0.6"/>
<path d="M373.8,533.0 L405.5,531.6 L406.5,531.5 L514.7,528.5" fill="none" stroke="#2a3e22" stroke-width="1.0" opacity="0.8"/></g>
<g id="R3"><defs><linearGradient id="pR2lf" gradientUnits="userSpaceOnUse" x1="422.1" y1="502.2" x2="385.1" y2="478.0"><stop offset="0" stop-color="#293f22"/><stop offset="0.05" stop-color="#33492c"/><stop offset="0.15" stop-color="#40553a"/><stop offset="0.5" stop-color="#455a40"/><stop offset="1" stop-color="#4b5a44"/></linearGradient><linearGradient id="pR2bk" gradientUnits="userSpaceOnUse" x1="406.5" y1="0" x2="524.1" y2="0"><stop offset="0" stop-color="#3c5236"/><stop offset="0.3" stop-color="#40573a"/><stop offset="0.43" stop-color="#475d40"/><stop offset="0.62" stop-color="#40573a"/><stop offset="0.685" stop-color="#324a2c"/><stop offset="0.72" stop-color="#1d3117"/><stop offset="0.815" stop-color="#1c3016"/><stop offset="0.822" stop-color="#3c5635"/><stop offset="0.925" stop-color="#36502f"/><stop offset="0.93" stop-color="#17260f"/><stop offset="1" stop-color="#17260f"/></linearGradient><linearGradient id="pR2rm" gradientUnits="userSpaceOnUse" x1="444.0" y1="0" x2="464.5" y2="0"><stop offset="0" stop-color="#47633f"/><stop offset="1" stop-color="#56744d"/></linearGradient></defs>
<polygon points="383.1,437.4 397.7,432.5 405.8,422.8 406.5,409.3 514.7,413.1 515.8,413.4 523.5,414.0 524.1,425.8 526.2,425.9 539.8,425.5 551.7,427.6 583.7,471.1 585.3,476.3 585.6,480.0 584.4,483.4 582.3,484.3 574.6,485.7 541.6,527.9 529.5,532.4 525.2,539.0 521.2,540.5 431.9,544.4 423.0,547.7 388.7,546.7 386.7,532.4 386.6,532.4" fill="#21361a" stroke="#21361a" stroke-width="0.6" stroke-linejoin="round"/>
<polygon points="406.5,409.3 514.7,413.1 515.8,413.4 523.5,414.0 524.1,425.8 526.2,425.9 526.2,479.2 580.7,479.2 510.0,480.5 485.0,480.0 460.5,477.4 451.0,474.0 444.0,468.0 435.4,456.9 405.8,422.8" fill="url(#pR2bk)" />
<polygon points="436.5,460.6 488.8,460.3 488.8,481.1 485.0,481.0 460.5,478.4 451.0,475.0 444.0,469.0 435.4,457.9" fill="#2a4024" />
<path d="M437.5,459.6 L488.8,460.3 L488.8,463.3 L441.0,462.5Z" fill="#415a3a" stroke="none" stroke-width="1" />
<polygon points="503.2,426.8 525.1,428.6 525.1,481.2 503.2,481.4" fill="#263e20" />
<rect x="436.5" y="410.9" width="1.7" height="48.0" fill="#1f3119"/>
<rect x="415.5" y="423.4" width="2" height="9.2" rx="1" fill="#1f3119"/>
<rect x="457.2" y="411.6" width="1" height="47.8" fill="#344c2d"/>
<path d="M476.5,460.2 L476.5,424.8 L478.2,422.8 L479.9,424.8 L479.9,460.2Z" fill="#1f3119"/>
<rect x="502.6" y="413.7" width="1.2" height="65.7" fill="#4a6341"/>
<path d="M524.1,425.8 L526.2,425.9 L539.8,428.5 Q539.8,425.5 542.8,425.5 Q548.7,425.8 551.7,427.6 L583.7,471.1 Q585.5,477.0 585.2,479.5 L580.7,479.2 L525.1,481.2 Z" fill="#1d3217" stroke="none" stroke-width="1" />
<path d="M541.8,426.1 Q548.7,426.4 551.7,428.2 L583.1,471.3 Q584.8,477.0 584.6,479.0" fill="none" stroke="#456439" stroke-width="2.3710743801652896" stroke-linecap="round"/>
<polygon points="515.8,413.4 523.5,414.0 524.1,425.8 524.1,432.3 516.8,432.3" fill="#1c2c16" />
<rect x="515.8" y="413.4" width="2.4" height="16.1" fill="#2f4728"/>
<rect x="532.6" y="422.5" width="7.2" height="11.0" fill="#fff"/>
<circle cx="534.6" cy="433.5" r="5.2" fill="#fff"/>
<path d="M539.2,424.3 L543.0,424.3 L543.0,425.4 Q539.8,425.5 539.7,428.7 L539.2,428.7Z" fill="#fff"/>
<rect x="526.2" y="425.9" width="5.0" height="12.0" rx="1.2" fill="#2a3f23"/>
<rect x="528.9" y="427.9" width="2.1" height="9.2" rx="0.8" fill="#aeb9a9"/>
<polygon points="383.1,437.4 397.7,432.5 400.0,425.9 430.0,461.0 439.5,472.5 441.8,472.1 402.3,532.4 386.6,532.4" fill="url(#pR2lf)" />
<path d="M383.6,439.4 L387.1,531.9" fill="none" stroke="#1f3019" stroke-width="1.1" opacity="0.55"/>
<path d="M441.8,472.1 L439.5,472.5 C441.0,473.7 445.0,477.9 448.3,479.8 C451.6,481.7 454.9,483.1 459.3,484.1 C463.8,485.2 466.6,485.6 475.0,486.1 C483.4,486.6 493.4,487.0 510.0,487.0 C526.6,486.9 563.9,485.9 574.6,485.7 L542.1,526.9 Q540.6,528.9 537.6,530.1 L530.5,532.4 Q528.5,532.9 527.5,534.9 L526.2,538.5 Q524.2,541.0 520.2,540.7 L431.9,544.4 L423.0,546.7 L387.7,534.4 L386.6,532.4 L402.3,532.4 Z" fill="#21361a" stroke="none" stroke-width="1" />
<polygon points="429.9,535.4 530.5,532.4 527.5,534.9 525.7,538.8 523.2,540.4 520.2,540.7 431.9,544.4 423.0,547.7" fill="#1f3318" />
<rect x="451.5" y="513.2" width="2.2" height="2.1" rx="0.8" fill="#5b7b50"/><rect x="455.4" y="513.2" width="2.2" height="2.1" rx="0.8" fill="#5b7b50"/><rect x="459.3" y="513.2" width="2.2" height="2.1" rx="0.8" fill="#5b7b50"/><rect x="463.2" y="513.2" width="2.2" height="2.1" rx="0.8" fill="#5b7b50"/><rect x="467.1" y="513.1" width="2.2" height="2.1" rx="0.8" fill="#5b7b50"/><rect x="471.0" y="513.1" width="2.2" height="2.1" rx="0.8" fill="#5b7b50"/><rect x="474.8" y="513.1" width="2.2" height="2.1" rx="0.8" fill="#5b7b50"/><rect x="478.7" y="513.1" width="2.2" height="2.1" rx="0.8" fill="#5b7b50"/><rect x="482.6" y="513.0" width="2.2" height="2.1" rx="0.8" fill="#5b7b50"/><rect x="486.5" y="513.0" width="2.2" height="2.1" rx="0.8" fill="#5b7b50"/><rect x="490.4" y="513.0" width="2.2" height="2.1" rx="0.8" fill="#5b7b50"/><rect x="494.3" y="513.0" width="2.2" height="2.1" rx="0.8" fill="#5b7b50"/><rect x="498.2" y="513.0" width="2.2" height="2.1" rx="0.8" fill="#5b7b50"/><rect x="502.0" y="512.9" width="2.2" height="2.1" rx="0.8" fill="#5b7b50"/><rect x="505.9" y="512.9" width="2.2" height="2.1" rx="0.8" fill="#5b7b50"/><rect x="509.8" y="512.9" width="2.2" height="2.1" rx="0.8" fill="#5b7b50"/><rect x="513.7" y="512.9" width="2.2" height="2.1" rx="0.8" fill="#5b7b50"/><rect x="517.6" y="512.8" width="2.2" height="2.1" rx="0.8" fill="#5b7b50"/><rect x="521.5" y="512.8" width="2.2" height="2.1" rx="0.8" fill="#5b7b50"/><rect x="525.4" y="512.8" width="2.2" height="2.1" rx="0.8" fill="#5b7b50"/><rect x="529.2" y="512.8" width="2.2" height="2.1" rx="0.8" fill="#5b7b50"/><rect x="533.1" y="512.7" width="2.2" height="2.1" rx="0.8" fill="#5b7b50"/><rect x="537.0" y="512.7" width="2.2" height="2.1" rx="0.8" fill="#5b7b50"/><rect x="540.9" y="512.7" width="2.2" height="2.1" rx="0.8" fill="#5b7b50"/>
<polygon points="386.7,531.9 431.9,533.9 423.0,547.7 388.7,546.7" fill="#17260f" />
<polygon points="425.1,536.8 431.6,537.0 424.5,545.5 423.4,545.5" fill="#2f4a29" />
<polygon points="373.8,409.0 405.5,409.0 406.5,409.3 405.8,422.8 413.2,431.3 407.5,434.7 400.0,425.9 397.7,432.5 391.3,435.3 383.6,438.4 378.2,432.3 376.2,429.8 374.0,425.1" fill="#43583c" />
<path d="M405.8,422.8 C410.7,428.5 429.0,449.4 435.4,456.9 C441.8,464.5 441.4,465.2 444.0,468.0 C446.6,470.9 448.3,472.4 451.0,474.0 C453.7,475.5 454.8,476.4 460.5,477.4 C466.2,478.4 476.7,479.5 485.0,480.0 C493.3,480.6 494.1,480.7 510.0,480.5 C525.9,480.4 568.9,479.4 580.7,479.2 Q585.6,478.3 585.6,480.7 Q585.8,484.0 582.3,484.3 L574.6,485.7 L574.6,485.7 C563.9,485.9 526.6,486.9 510.0,487.0 C493.4,487.0 483.4,486.6 475.0,486.1 C466.6,485.6 463.8,485.2 459.3,484.1 C454.9,483.1 451.6,481.7 448.3,479.8 C445.0,477.9 442.6,475.6 439.5,472.5 C436.4,469.3 436.6,468.8 430.0,461.0 C423.4,453.3 405.0,431.7 400.0,425.9 Z" fill="url(#pR2rm)" stroke="none" stroke-width="1" />
<path d="M448.3,478.9 C450.2,479.6 454.9,482.2 459.3,483.2 C463.8,484.3 466.6,484.7 475.0,485.2 C483.4,485.7 493.4,486.1 510.0,486.1 C526.6,486.0 563.9,485.0 574.6,484.8" fill="none" stroke="#496841" stroke-width="1.6" opacity="0.8"/>
<path d="M405.4,423.7 C410.3,429.4 428.6,450.3 435.0,457.8 C441.4,465.4 441.0,466.1 443.6,468.9 C446.2,471.8 447.9,473.3 450.6,474.9 C453.3,476.4 454.4,477.3 460.1,478.3 C465.8,479.3 476.3,480.4 484.6,480.9 C492.9,481.5 493.7,481.6 509.6,481.4 C525.5,481.3 568.5,480.3 580.3,480.1" fill="none" stroke="#7a986e" stroke-width="1.7" stroke-linecap="round" opacity="0.7"/>
<ellipse cx="448.3" cy="475.6" rx="1.3" ry="2.6" transform="rotate(-35 448.3 475.6)" fill="#d5e3cc" opacity="0.85"/>
<rect x="583.6" y="478.0" width="1.5" height="6.5" rx="0.7" fill="#d5e3cc" opacity="0.9"/>
<circle cx="398.4" cy="432.2" r="8.0" fill="#4c6443"/>
<path d="M399.0,425.9 A7.0,7.0 0 0 1 397.9,439.2 A2.0,6.7 0 0 1 399.0,425.9Z" fill="#1c2b16"/>
<polygon points="378.4,411.0 391.6,412.2 391.6,422.8 385.8,422.2 385.3,418.7 378.4,418.2" fill="#1f3019" />
<rect x="388.0" y="421.9" width="3.6" height="6.8" fill="#1f3019"/>
<polygon points="382.1,413.8 387.1,414.3 387.1,416.9 382.1,416.5" fill="#34492e" />
<rect x="379.1" y="416.0" width="2.2" height="3.9" rx="0.9" fill="#eef3ea"/>
<rect x="385.0" y="431.5" width="4.2" height="1.4" rx="0.7" fill="#dfe8da" transform="rotate(8 386.7 432.0)"/>
<path d="M374.5,410.0 L374.7,425.1" fill="none" stroke="#1f3019" stroke-width="2.0" opacity="0.6"/>
<path d="M373.8,409.0 L405.5,409.0 L406.5,409.3 L514.7,413.1" fill="none" stroke="#2a3e22" stroke-width="1.0" opacity="0.8"/></g>
<g id="R2"><defs><linearGradient id="pR1lf" gradientUnits="userSpaceOnUse" x1="421.6" y1="376.8" x2="384.2" y2="353.3"><stop offset="0" stop-color="#293f22"/><stop offset="0.05" stop-color="#33492c"/><stop offset="0.15" stop-color="#40553a"/><stop offset="0.5" stop-color="#455a40"/><stop offset="1" stop-color="#4b5a44"/></linearGradient><linearGradient id="pR1bk" gradientUnits="userSpaceOnUse" x1="406.5" y1="0" x2="524.1" y2="0"><stop offset="0" stop-color="#3c5236"/><stop offset="0.3" stop-color="#40573a"/><stop offset="0.43" stop-color="#475d40"/><stop offset="0.62" stop-color="#40573a"/><stop offset="0.685" stop-color="#324a2c"/><stop offset="0.72" stop-color="#1d3117"/><stop offset="0.815" stop-color="#1c3016"/><stop offset="0.822" stop-color="#3c5635"/><stop offset="0.925" stop-color="#36502f"/><stop offset="0.93" stop-color="#17260f"/><stop offset="1" stop-color="#17260f"/></linearGradient><linearGradient id="pR1rm" gradientUnits="userSpaceOnUse" x1="444.0" y1="0" x2="465.9" y2="0"><stop offset="0" stop-color="#3c5635"/><stop offset="1" stop-color="#56744d"/></linearGradient></defs>
<polygon points="383.5,312.8 398.0,308.2 405.8,298.2 406.5,286.9 514.7,297.4 515.8,298.1 523.5,298.7 524.1,309.5 526.2,309.6 539.8,308.9 551.0,311.0 584.2,353.6 585.5,357.6 585.8,361.3 584.8,364.2 582.7,365.1 575.1,366.1 541.1,408.4 528.3,413.0 525.5,421.3 521.5,422.8 431.9,422.1 422.0,424.2 388.3,423.2 386.3,408.0 386.3,408.0" fill="#21361a" stroke="#21361a" stroke-width="0.6" stroke-linejoin="round"/>
<polygon points="406.5,286.9 514.7,297.4 515.8,298.1 523.5,298.7 524.1,309.5 526.2,309.6 526.2,360.3 581.3,360.3 510.0,356.9 485.0,355.1 461.9,351.1 451.0,347.3 444.0,341.9 434.7,331.0 405.8,298.2" fill="url(#pR1bk)" />
<polygon points="440.7,339.7 488.8,341.7 488.8,356.4 485.0,356.1 461.9,352.1 451.0,348.3 444.0,342.9" fill="#2a4024" />
<path d="M441.7,338.7 L488.8,341.7 L488.8,344.7 L445.2,341.6Z" fill="#415a3a" stroke="none" stroke-width="1" />
<polygon points="503.2,310.4 525.1,312.2 525.1,358.6 503.2,357.4" fill="#263e20" />
<rect x="436.5" y="290.4" width="1.7" height="43.2" fill="#1f3119"/>
<rect x="415.5" y="301.6" width="2" height="6.2" rx="1" fill="#1f3119"/>
<rect x="457.2" y="292.4" width="1" height="46.8" fill="#344c2d"/>
<path d="M476.5,341.0 L476.5,306.9 L478.2,304.9 L479.9,306.9 L479.9,341.0Z" fill="#1f3119"/>
<rect x="502.6" y="297.3" width="1.2" height="58.1" fill="#4a6341"/>
<path d="M524.1,309.5 L526.2,309.6 L539.8,311.9 Q539.8,308.9 542.8,308.9 Q548.0,309.2 551.0,311.0 L584.2,353.6 Q585.7,358.3 585.4,360.8 L581.3,360.3 L525.1,358.6 Z" fill="#1d3217" stroke="none" stroke-width="1" />
<path d="M541.8,309.5 Q548.0,309.8 551.0,311.6 L583.6,353.8 Q585.0,358.3 584.8,360.3" fill="none" stroke="#456439" stroke-width="1.8412956544921355" stroke-linecap="round"/>
<polygon points="515.8,298.1 523.5,298.7 524.1,309.5 524.1,315.9 516.8,315.9" fill="#1c2c16" />
<rect x="515.8" y="298.1" width="2.4" height="15.1" fill="#2f4728"/>
<rect x="532.6" y="305.9" width="7.2" height="11.4" fill="#fff"/>
<circle cx="534.6" cy="317.3" r="5.2" fill="#fff"/>
<path d="M539.2,307.7 L543.0,307.7 L543.0,308.8 Q539.8,308.9 539.7,312.1 L539.2,312.1Z" fill="#fff"/>
<rect x="526.2" y="309.6" width="5.0" height="12.0" rx="1.2" fill="#2a3f23"/>
<rect x="528.9" y="311.6" width="2.1" height="9.2" rx="0.8" fill="#aeb9a9"/>
<polygon points="383.5,312.8 398.0,308.2 400.0,301.0 429.5,334.9 439.5,346.1 441.2,345.5 401.9,408.0 386.3,408.0" fill="url(#pR1lf)" />
<path d="M384.0,314.8 L386.8,407.5" fill="none" stroke="#1f3019" stroke-width="1.1" opacity="0.55"/>
<path d="M441.2,345.5 L439.5,346.1 C441.0,347.3 445.3,351.2 448.7,353.1 C452.0,355.0 455.3,356.2 459.7,357.5 C464.1,358.8 466.6,359.8 475.0,360.7 C483.4,361.7 493.3,362.2 510.0,363.1 C526.7,364.0 564.2,365.6 575.1,366.1 L541.6,407.4 Q540.1,409.4 537.1,410.6 L529.3,413.0 Q527.3,413.5 526.3,415.5 L526.5,420.8 Q524.5,423.3 520.5,423.0 L431.9,422.1 L422.0,423.2 L387.3,410.0 L386.3,408.0 L401.9,408.0 Z" fill="#21361a" stroke="none" stroke-width="1" />
<polygon points="429.9,411.0 529.3,413.0 526.3,415.5 526.0,421.1 523.5,422.7 520.5,423.0 431.9,422.1 422.0,424.2" fill="#1f3318" />
<rect x="451.3" y="388.5" width="2.2" height="2.1" rx="0.8" fill="#5b7b50"/><rect x="455.2" y="388.7" width="2.2" height="2.1" rx="0.8" fill="#5b7b50"/><rect x="459.1" y="388.9" width="2.2" height="2.1" rx="0.8" fill="#5b7b50"/><rect x="463.0" y="389.1" width="2.2" height="2.1" rx="0.8" fill="#5b7b50"/><rect x="466.9" y="389.3" width="2.2" height="2.1" rx="0.8" fill="#5b7b50"/><rect x="470.8" y="389.5" width="2.2" height="2.1" rx="0.8" fill="#5b7b50"/><rect x="474.7" y="389.7" width="2.2" height="2.1" rx="0.8" fill="#5b7b50"/><rect x="478.5" y="389.9" width="2.2" height="2.1" rx="0.8" fill="#5b7b50"/><rect x="482.4" y="390.2" width="2.2" height="2.1" rx="0.8" fill="#5b7b50"/><rect x="486.3" y="390.4" width="2.2" height="2.1" rx="0.8" fill="#5b7b50"/><rect x="490.2" y="390.6" width="2.2" height="2.1" rx="0.8" fill="#5b7b50"/><rect x="494.1" y="390.8" width="2.2" height="2.1" rx="0.8" fill="#5b7b50"/><rect x="498.0" y="391.0" width="2.2" height="2.1" rx="0.8" fill="#5b7b50"/><rect x="501.9" y="391.2" width="2.2" height="2.1" rx="0.8" fill="#5b7b50"/><rect x="505.8" y="391.4" width="2.2" height="2.1" rx="0.8" fill="#5b7b50"/><rect x="509.7" y="391.6" width="2.2" height="2.1" rx="0.8" fill="#5b7b50"/><rect x="513.6" y="391.8" width="2.2" height="2.1" rx="0.8" fill="#5b7b50"/><rect x="517.5" y="392.0" width="2.2" height="2.1" rx="0.8" fill="#5b7b50"/><rect x="521.4" y="392.2" width="2.2" height="2.1" rx="0.8" fill="#5b7b50"/><rect x="525.3" y="392.5" width="2.2" height="2.1" rx="0.8" fill="#5b7b50"/><rect x="529.2" y="392.7" width="2.2" height="2.1" rx="0.8" fill="#5b7b50"/><rect x="533.1" y="392.9" width="2.2" height="2.1" rx="0.8" fill="#5b7b50"/><rect x="537.0" y="393.1" width="2.2" height="2.1" rx="0.8" fill="#5b7b50"/><rect x="540.9" y="393.3" width="2.2" height="2.1" rx="0.8" fill="#5b7b50"/>
<polygon points="386.3,407.5 431.9,409.5 422.0,424.2 388.3,423.2" fill="#17260f" />
<polygon points="425.0,412.6 431.6,412.8 424.5,421.9 423.3,421.9" fill="#2f4a29" />
<polygon points="373.8,284.8 405.5,286.2 406.5,286.9 405.8,298.2 413.0,306.4 407.4,309.5 400.0,301.0 398.0,308.2 391.6,311.0 384.0,313.8 378.2,307.8 376.2,305.3 374.0,300.7" fill="#43583c" />
<path d="M405.8,298.2 C410.6,303.7 428.3,323.7 434.7,331.0 C441.1,338.3 441.3,339.2 444.0,341.9 C446.7,344.6 448.0,345.7 451.0,347.3 C454.0,348.8 456.2,349.8 461.9,351.1 C467.5,352.4 477.0,354.1 485.0,355.1 C493.0,356.0 493.9,356.0 510.0,356.9 C526.1,357.7 569.4,359.7 581.3,360.3 Q585.8,359.6 585.8,362.0 Q586.0,364.8 582.7,365.1 L575.1,366.1 L575.1,366.1 C564.2,365.6 526.7,364.0 510.0,363.1 C493.3,362.2 483.4,361.7 475.0,360.7 C466.6,359.8 464.1,358.8 459.7,357.5 C455.3,356.2 452.0,355.0 448.7,353.1 C445.3,351.2 442.7,349.1 439.5,346.1 C436.3,343.1 436.1,342.4 429.5,334.9 C422.9,327.4 404.9,306.7 400.0,301.0 Z" fill="url(#pR1rm)" stroke="none" stroke-width="1" />
<path d="M448.7,352.2 C450.5,352.9 455.3,355.3 459.7,356.6 C464.1,357.9 466.6,358.9 475.0,359.8 C483.4,360.8 493.3,361.3 510.0,362.2 C526.7,363.1 564.2,364.7 575.1,365.2" fill="none" stroke="#496841" stroke-width="1.6" opacity="0.8"/>
<path d="M405.4,299.1 C410.2,304.6 427.9,324.6 434.3,331.9 C440.7,339.2 440.9,340.1 443.6,342.8 C446.3,345.5 447.6,346.6 450.6,348.2 C453.6,349.7 455.8,350.7 461.5,352.0 C467.1,353.3 476.6,355.0 484.6,356.0 C492.6,356.9 493.5,356.9 509.6,357.8 C525.7,358.6 569.0,360.6 580.9,361.2" fill="none" stroke="#7a986e" stroke-width="1.7" stroke-linecap="round" opacity="0.7"/>
<ellipse cx="448.4" cy="348.9" rx="1.3" ry="2.6" transform="rotate(-35 448.4 348.9)" fill="#d5e3cc" opacity="0.85"/>
<rect x="583.8" y="359.3" width="1.5" height="6.0" rx="0.7" fill="#d5e3cc" opacity="0.9"/>
<circle cx="398.7" cy="307.9" r="8.0" fill="#4c6443"/>
<path d="M399.3,301.6 A7.0,7.0 0 0 1 398.2,314.9 A2.0,6.7 0 0 1 399.3,301.6Z" fill="#1c2b16"/>
<polygon points="378.4,286.8 391.6,288.0 391.6,298.6 385.8,298.0 385.3,294.5 378.4,294.0" fill="#1f3019" />
<rect x="388.0" y="297.7" width="3.6" height="6.8" fill="#1f3019"/>
<polygon points="382.1,289.6 387.1,290.1 387.1,292.7 382.1,292.3" fill="#34492e" />
<rect x="379.1" y="291.8" width="2.2" height="3.9" rx="0.9" fill="#eef3ea"/>
<rect x="385.0" y="307.3" width="4.2" height="1.4" rx="0.7" fill="#dfe8da" transform="rotate(8 386.7 307.8)"/>
<path d="M374.5,285.8 L374.7,300.7" fill="none" stroke="#1f3019" stroke-width="2.0" opacity="0.6"/>
<path d="M373.8,284.8 L405.5,286.2 L406.5,286.9 L514.7,297.4" fill="none" stroke="#2a3e22" stroke-width="1.0" opacity="0.8"/></g>
<g id="R1"><defs><linearGradient id="pR0lf" gradientUnits="userSpaceOnUse" x1="421.1" y1="248.6" x2="383.2" y2="225.9"><stop offset="0" stop-color="#293f22"/><stop offset="0.05" stop-color="#33492c"/><stop offset="0.15" stop-color="#40553a"/><stop offset="0.5" stop-color="#455a40"/><stop offset="1" stop-color="#4b5a44"/></linearGradient><linearGradient id="pR0bk" gradientUnits="userSpaceOnUse" x1="406.5" y1="0" x2="524.1" y2="0"><stop offset="0" stop-color="#55664f"/><stop offset="0.43" stop-color="#53644d"/><stop offset="0.62" stop-color="#4b5f45"/><stop offset="0.685" stop-color="#3a5334"/><stop offset="0.72" stop-color="#20351a"/><stop offset="0.815" stop-color="#1f3319"/><stop offset="0.822" stop-color="#506b4a"/><stop offset="0.925" stop-color="#48633f"/><stop offset="0.93" stop-color="#17260f"/><stop offset="1" stop-color="#17260f"/></linearGradient><linearGradient id="pR0rm" gradientUnits="userSpaceOnUse" x1="444.0" y1="0" x2="467.3" y2="0"><stop offset="0" stop-color="#324a2b"/><stop offset="1" stop-color="#56744d"/></linearGradient></defs>
<polygon points="383.8,185.5 398.3,181.2 405.8,170.9 406.5,161.8 514.7,179.3 515.8,180.3 523.5,181.0 524.1,190.6 526.2,190.8 539.8,189.7 550.3,191.8 584.7,233.5 585.7,236.3 586.0,240.0 585.1,242.4 583.0,243.3 575.5,244.0 541.3,289.5 528.9,294.0 524.4,302.5 520.4,304.0 431.9,297.2 421.0,298.0 388.0,297.0 386.0,281.0 385.9,281.0" fill="#21361a" stroke="#21361a" stroke-width="0.6" stroke-linejoin="round"/>
<polygon points="406.5,161.8 514.7,179.3 515.8,180.3 523.5,181.0 524.1,190.6 526.2,190.8 526.2,238.7 582.0,238.7 510.0,230.5 485.0,227.4 463.3,222.1 451.0,217.8 444.0,213.0 434.0,202.3 405.8,170.9" fill="url(#pR0bk)" />
<polygon points="447.4,216.2 488.8,220.5 488.8,228.9 485.0,228.4 463.3,223.1 451.0,218.8 444.0,214.0" fill="#2f4828" />
<path d="M448.4,215.2 L488.8,220.5 L488.8,223.5 L451.9,218.2Z" fill="#4d6a45" stroke="none" stroke-width="1" />
<polygon points="503.2,191.5 525.1,193.4 525.1,233.2 503.2,230.7" fill="#263e20" />
<rect x="436.5" y="167.3" width="1.7" height="38.1" fill="#1f3119"/>
<rect x="415.5" y="177.2" width="2" height="3.1" rx="1" fill="#1f3119"/>
<rect x="457.2" y="170.6" width="1" height="45.3" fill="#344c2d"/>
<path d="M476.5,219.1 L476.5,186.4 L478.2,184.4 L479.9,186.4 L479.9,219.1Z" fill="#1f3119"/>
<rect x="502.6" y="178.4" width="1.2" height="50.2" fill="#4a6341"/>
<path d="M524.1,190.6 L526.2,190.8 L539.8,192.7 Q539.8,189.7 542.8,189.7 Q547.3,190.0 550.3,191.8 L584.7,233.5 Q585.9,237.0 585.6,239.5 L582.0,238.7 L525.1,233.2 Z" fill="#1d3217" stroke="none" stroke-width="1" />
<path d="M541.8,190.3 Q547.3,190.6 550.3,192.4 L584.1,233.7 Q585.2,237.0 585.0,239.0" fill="none" stroke="#456439" stroke-width="1.3" stroke-linecap="round"/>
<polygon points="515.8,180.3 523.5,181.0 524.1,190.6 524.1,197.0 516.8,197.0" fill="#1c2c16" />
<rect x="515.8" y="180.3" width="2.4" height="14.0" fill="#2f4728"/>
<rect x="532.6" y="186.7" width="7.2" height="11.9" fill="#fff"/>
<circle cx="534.6" cy="198.6" r="5.2" fill="#fff"/>
<path d="M539.2,188.5 L543.0,188.5 L543.0,189.6 Q539.8,189.7 539.7,192.9 L539.2,192.9Z" fill="#fff"/>
<rect x="526.2" y="190.8" width="5.0" height="12.0" rx="1.2" fill="#2a3f23"/>
<rect x="528.9" y="192.8" width="2.1" height="9.2" rx="0.8" fill="#aeb9a9"/>
<polygon points="383.8,185.5 398.3,181.2 400.0,173.5 429.0,206.0 439.5,217.0 440.5,216.2 401.6,281.0 385.9,281.0" fill="url(#pR0lf)" />
<path d="M384.3,187.5 L386.4,280.5" fill="none" stroke="#1f3019" stroke-width="1.1" opacity="0.55"/>
<path d="M440.5,216.2 L439.5,217.0 C441.1,218.1 445.6,221.7 449.0,223.6 C452.4,225.4 455.7,226.7 460.0,228.2 C464.3,229.7 466.7,231.2 475.0,232.6 C483.3,234.0 493.2,234.7 510.0,236.6 C526.8,238.5 564.6,242.8 575.5,244.0 L541.8,288.5 Q540.3,290.5 537.3,291.7 L529.9,294.0 Q527.9,294.5 526.9,296.5 L525.4,302.0 Q523.4,304.5 519.4,304.2 L431.9,297.2 L421.0,297.0 L387.0,283.0 L385.9,281.0 L401.6,281.0 Z" fill="#21361a" stroke="none" stroke-width="1" />
<polygon points="429.9,284.0 529.9,294.0 526.9,296.5 524.9,302.3 522.4,303.9 519.4,304.2 431.9,297.2 421.0,298.0" fill="#1f3318" />
<rect x="451.0" y="261.0" width="2.2" height="2.1" rx="0.8" fill="#5b7b50"/><rect x="454.9" y="261.4" width="2.2" height="2.1" rx="0.8" fill="#5b7b50"/><rect x="458.8" y="261.9" width="2.2" height="2.1" rx="0.8" fill="#5b7b50"/><rect x="462.7" y="262.3" width="2.2" height="2.1" rx="0.8" fill="#5b7b50"/><rect x="466.6" y="262.8" width="2.2" height="2.1" rx="0.8" fill="#5b7b50"/><rect x="470.5" y="263.2" width="2.2" height="2.1" rx="0.8" fill="#5b7b50"/><rect x="474.5" y="263.7" width="2.2" height="2.1" rx="0.8" fill="#5b7b50"/><rect x="478.4" y="264.1" width="2.2" height="2.1" rx="0.8" fill="#5b7b50"/><rect x="482.3" y="264.6" width="2.2" height="2.1" rx="0.8" fill="#5b7b50"/><rect x="486.2" y="265.0" width="2.2" height="2.1" rx="0.8" fill="#5b7b50"/><rect x="490.1" y="265.5" width="2.2" height="2.1" rx="0.8" fill="#5b7b50"/><rect x="494.0" y="265.9" width="2.2" height="2.1" rx="0.8" fill="#5b7b50"/><rect x="497.9" y="266.4" width="2.2" height="2.1" rx="0.8" fill="#5b7b50"/><rect x="501.8" y="266.8" width="2.2" height="2.1" rx="0.8" fill="#5b7b50"/><rect x="505.7" y="267.3" width="2.2" height="2.1" rx="0.8" fill="#5b7b50"/><rect x="509.6" y="267.7" width="2.2" height="2.1" rx="0.8" fill="#5b7b50"/><rect x="513.5" y="268.2" width="2.2" height="2.1" rx="0.8" fill="#5b7b50"/><rect x="517.4" y="268.6" width="2.2" height="2.1" rx="0.8" fill="#5b7b50"/><rect x="521.4" y="269.1" width="2.2" height="2.1" rx="0.8" fill="#5b7b50"/><rect x="525.3" y="269.5" width="2.2" height="2.1" rx="0.8" fill="#5b7b50"/><rect x="529.2" y="270.0" width="2.2" height="2.1" rx="0.8" fill="#5b7b50"/><rect x="533.1" y="270.4" width="2.2" height="2.1" rx="0.8" fill="#5b7b50"/><rect x="537.0" y="270.9" width="2.2" height="2.1" rx="0.8" fill="#5b7b50"/><rect x="540.9" y="271.3" width="2.2" height="2.1" rx="0.8" fill="#5b7b50"/>
<polygon points="386.0,280.5 431.9,282.5 421.0,298.0 388.0,297.0" fill="#17260f" />
<polygon points="425.0,285.7 431.6,286.0 424.4,295.5 423.3,295.5" fill="#2f4a29" />
<polygon points="373.8,157.9 405.5,160.7 406.5,161.8 405.8,170.9 412.9,178.8 407.2,181.6 400.0,173.5 398.3,181.2 391.9,184.0 384.3,186.5 378.2,180.7 376.2,178.2 374.0,173.6" fill="#43583c" />
<path d="M405.8,170.9 C410.5,176.1 427.6,195.3 434.0,202.3 C440.4,209.3 441.2,210.4 444.0,213.0 C446.8,215.6 447.8,216.3 451.0,217.8 C454.2,219.3 457.6,220.5 463.3,222.1 C469.0,223.7 477.2,226.0 485.0,227.4 C492.8,228.8 493.8,228.6 510.0,230.5 C526.2,232.4 570.0,237.3 582.0,238.7 Q586.0,238.3 586.0,240.7 Q586.2,243.0 583.0,243.3 L575.5,244.0 L575.5,244.0 C564.6,242.8 526.8,238.5 510.0,236.6 C493.2,234.7 483.3,234.0 475.0,232.6 C466.7,231.2 464.3,229.7 460.0,228.2 C455.7,226.7 452.4,225.4 449.0,223.6 C445.6,221.7 442.8,219.9 439.5,217.0 C436.2,214.1 435.6,213.2 429.0,206.0 C422.4,198.8 404.8,178.9 400.0,173.5 Z" fill="url(#pR0rm)" stroke="none" stroke-width="1" />
<path d="M449.0,222.7 C450.8,223.4 455.7,225.8 460.0,227.3 C464.3,228.8 466.7,230.3 475.0,231.7 C483.3,233.1 493.2,233.8 510.0,235.7 C526.8,237.6 564.6,241.9 575.5,243.1" fill="none" stroke="#496841" stroke-width="1.6" opacity="0.8"/>
<path d="M405.4,171.8 C410.1,177.0 427.2,196.2 433.6,203.2 C440.0,210.2 440.8,211.3 443.6,213.9 C446.4,216.5 447.4,217.2 450.6,218.7 C453.8,220.2 457.2,221.4 462.9,223.0 C468.6,224.6 476.8,226.9 484.6,228.3 C492.4,229.7 493.4,229.5 509.6,231.4 C525.8,233.3 569.6,238.2 581.6,239.6" fill="none" stroke="#7a986e" stroke-width="1.7" stroke-linecap="round" opacity="0.7"/>
<ellipse cx="448.6" cy="219.4" rx="1.3" ry="2.6" transform="rotate(-35 448.6 219.4)" fill="#d5e3cc" opacity="0.85"/>
<rect x="584.0" y="238.0" width="1.5" height="5.5" rx="0.7" fill="#d5e3cc" opacity="0.9"/>
<circle cx="399.0" cy="180.9" r="8.0" fill="#4c6443"/>
<path d="M399.6,174.6 A7.0,7.0 0 0 1 398.5,187.9 A2.0,6.7 0 0 1 399.6,174.6Z" fill="#1c2b16"/>
<polygon points="378.4,159.9 391.6,161.1 391.6,171.7 385.8,171.1 385.3,167.6 378.4,167.1" fill="#1f3019" />
<rect x="388.0" y="170.8" width="3.6" height="6.8" fill="#1f3019"/>
<polygon points="382.1,162.7 387.1,163.2 387.1,165.8 382.1,165.4" fill="#34492e" />
<rect x="379.1" y="164.9" width="2.2" height="3.9" rx="0.9" fill="#eef3ea"/>
<rect x="385.0" y="180.4" width="4.2" height="1.4" rx="0.7" fill="#dfe8da" transform="rotate(8 386.7 180.9)"/>
<path d="M374.5,158.9 L374.7,173.6" fill="none" stroke="#1f3019" stroke-width="2.0" opacity="0.6"/>
<path d="M373.8,157.9 L405.5,160.7 L406.5,161.8 L514.7,179.3" fill="none" stroke="#2a3e22" stroke-width="1.0" opacity="0.8"/></g>
<g id="R4b"><polygon points="373.8,533.0 393.6,534.6 393.6,547.7 397.4,556.6 391.0,559.4 383.3,562.8 378.2,556.5 376.2,554.0 374.0,549.3" fill="#43583c" />
<circle cx="398.1" cy="556.3" r="8.0" fill="#4c6443"/>
<path d="M398.7,550.0 A7.0,7.0 0 0 1 397.6,563.3 A2.0,6.7 0 0 1 398.7,550.0Z" fill="#1c2b16"/>
<polygon points="378.4,535.0 391.6,536.2 391.6,546.8 385.8,546.2 385.3,542.7 378.4,542.2" fill="#1f3019" />
<rect x="388.0" y="545.9" width="3.6" height="6.8" fill="#1f3019"/>
<polygon points="382.1,537.8 387.1,538.3 387.1,540.9 382.1,540.5" fill="#34492e" />
<rect x="379.1" y="540.0" width="2.2" height="3.9" rx="0.9" fill="#eef3ea"/>
<rect x="385.0" y="555.5" width="4.2" height="1.4" rx="0.7" fill="#dfe8da" transform="rotate(8 386.7 556.0)"/>
<path d="M374.5,534.0 L374.7,549.3" fill="none" stroke="#1f3019" stroke-width="2.0" opacity="0.6"/>
<path d="M373.8,533.0 L393.6,534.6" fill="none" stroke="#2a3e22" stroke-width="1.0" opacity="0.8"/></g>
<g id="R3b"><polygon points="373.8,409.0 393.6,410.6 393.6,423.7 397.7,432.5 391.3,435.3 383.6,438.4 378.2,432.3 376.2,429.8 374.0,425.1" fill="#43583c" />
<circle cx="398.4" cy="432.2" r="8.0" fill="#4c6443"/>
<path d="M399.0,425.9 A7.0,7.0 0 0 1 397.9,439.2 A2.0,6.7 0 0 1 399.0,425.9Z" fill="#1c2b16"/>
<polygon points="378.4,411.0 391.6,412.2 391.6,422.8 385.8,422.2 385.3,418.7 378.4,418.2" fill="#1f3019" />
<rect x="388.0" y="421.9" width="3.6" height="6.8" fill="#1f3019"/>
<polygon points="382.1,413.8 387.1,414.3 387.1,416.9 382.1,416.5" fill="#34492e" />
<rect x="379.1" y="416.0" width="2.2" height="3.9" rx="0.9" fill="#eef3ea"/>
<rect x="385.0" y="431.5" width="4.2" height="1.4" rx="0.7" fill="#dfe8da" transform="rotate(8 386.7 432.0)"/>
<path d="M374.5,410.0 L374.7,425.1" fill="none" stroke="#1f3019" stroke-width="2.0" opacity="0.6"/>
<path d="M373.8,409.0 L393.6,410.6" fill="none" stroke="#2a3e22" stroke-width="1.0" opacity="0.8"/></g>
<g id="R2b"><polygon points="373.8,284.8 393.6,286.4 393.6,299.5 398.0,308.2 391.6,311.0 384.0,313.8 378.2,307.8 376.2,305.3 374.0,300.7" fill="#43583c" />
<circle cx="398.7" cy="307.9" r="8.0" fill="#4c6443"/>
<path d="M399.3,301.6 A7.0,7.0 0 0 1 398.2,314.9 A2.0,6.7 0 0 1 399.3,301.6Z" fill="#1c2b16"/>
<polygon points="378.4,286.8 391.6,288.0 391.6,298.6 385.8,298.0 385.3,294.5 378.4,294.0" fill="#1f3019" />
<rect x="388.0" y="297.7" width="3.6" height="6.8" fill="#1f3019"/>
<polygon points="382.1,289.6 387.1,290.1 387.1,292.7 382.1,292.3" fill="#34492e" />
<rect x="379.1" y="291.8" width="2.2" height="3.9" rx="0.9" fill="#eef3ea"/>
<rect x="385.0" y="307.3" width="4.2" height="1.4" rx="0.7" fill="#dfe8da" transform="rotate(8 386.7 307.8)"/>
<path d="M374.5,285.8 L374.7,300.7" fill="none" stroke="#1f3019" stroke-width="2.0" opacity="0.6"/>
<path d="M373.8,284.8 L393.6,286.4" fill="none" stroke="#2a3e22" stroke-width="1.0" opacity="0.8"/></g>
<defs><linearGradient id="bg" gradientUnits="userSpaceOnUse" x1="266" y1="0" x2="304" y2="0"><stop offset="0" stop-color="#505050" stop-opacity="0"/><stop offset="0.25" stop-color="#505050" stop-opacity="0.12"/><stop offset="1" stop-color="#505050" stop-opacity="1"/></linearGradient></defs>
<path d="M266,429.4 L326.6,429.4 L326.6,407.5 L361,448.6 L326.6,490.8 L326.6,468.6 L266,468.6 Z" fill="url(#bg)"/>
<defs><linearGradient id="da0" gradientUnits="userSpaceOnUse" x1="0" y1="253" x2="0" y2="284.3"><stop offset="0" stop-color="#4a4a4a" stop-opacity="0"/><stop offset="0.12" stop-color="#5a5a5a" stop-opacity="0.15"/><stop offset="0.45" stop-color="#555" stop-opacity="1"/><stop offset="1" stop-color="#3e3e3e"/></linearGradient></defs><path d="M26.0,253 L36.2,253 L36.2,273.1 L42.0,273.1 L31.1,284.3 L20.2,273.1 L26.0,273.1 Z" fill="url(#da0)"/>
<defs><linearGradient id="da1" gradientUnits="userSpaceOnUse" x1="0" y1="274" x2="0" y2="304.7"><stop offset="0" stop-color="#4a4a4a" stop-opacity="0"/><stop offset="0.12" stop-color="#5a5a5a" stop-opacity="0.15"/><stop offset="0.45" stop-color="#555" stop-opacity="1"/><stop offset="1" stop-color="#3e3e3e"/></linearGradient></defs><path d="M223.9,274 L234.1,274 L234.1,294 L239.9,294 L229.0,304.7 L218.1,294 L223.9,294 Z" fill="url(#da1)"/>
<defs><linearGradient id="da2" gradientUnits="userSpaceOnUse" x1="0" y1="419" x2="0" y2="448"><stop offset="0" stop-color="#4a4a4a" stop-opacity="0"/><stop offset="0.12" stop-color="#5a5a5a" stop-opacity="0.15"/><stop offset="0.45" stop-color="#555" stop-opacity="1"/><stop offset="1" stop-color="#3e3e3e"/></linearGradient></defs><path d="M25.7,419 L35.9,419 L35.9,437 L41.7,437 L30.8,448 L19.9,437 L25.7,437 Z" fill="url(#da2)"/>
<defs><linearGradient id="da3" gradientUnits="userSpaceOnUse" x1="0" y1="432" x2="0" y2="461"><stop offset="0" stop-color="#4a4a4a" stop-opacity="0"/><stop offset="0.12" stop-color="#5a5a5a" stop-opacity="0.15"/><stop offset="0.45" stop-color="#555" stop-opacity="1"/><stop offset="1" stop-color="#3e3e3e"/></linearGradient></defs><path d="M224.8,432 L235.0,432 L235.0,450 L240.8,450 L229.9,461 L219.0,450 L224.8,450 Z" fill="url(#da3)"/>
<defs><linearGradient id="da4" gradientUnits="userSpaceOnUse" x1="0" y1="577" x2="0" y2="606"><stop offset="0" stop-color="#4a4a4a" stop-opacity="0"/><stop offset="0.12" stop-color="#5a5a5a" stop-opacity="0.15"/><stop offset="0.45" stop-color="#555" stop-opacity="1"/><stop offset="1" stop-color="#3e3e3e"/></linearGradient></defs><path d="M25.6,577 L35.8,577 L35.8,595 L41.6,595 L30.7,606 L19.8,595 L25.6,595 Z" fill="url(#da4)"/>
<defs><linearGradient id="da5" gradientUnits="userSpaceOnUse" x1="0" y1="585" x2="0" y2="613.8"><stop offset="0" stop-color="#4a4a4a" stop-opacity="0"/><stop offset="0.12" stop-color="#5a5a5a" stop-opacity="0.15"/><stop offset="0.45" stop-color="#555" stop-opacity="1"/><stop offset="1" stop-color="#3e3e3e"/></linearGradient></defs><path d="M224.8,585 L235.0,585 L235.0,603 L240.8,603 L229.9,613.8 L219.0,603 L224.8,603 Z" fill="url(#da5)"/>
</svg>
<div class="t h" style="left:36.1px;top:-2.4px;letter-spacing:-0.65px">Free</div>
<div class="t h" style="left:129.4px;top:-2.4px;letter-spacing:1.14px">combination,</div>
<div class="t h" style="left:401px;top:-2.4px;letter-spacing:0.13px">convenient</div>
<div class="t h" style="left:234.2px;top:46.6px;letter-spacing:0.28px">assembly</div>
<div class="t s" style="left:-0.5px;top:97.5px;letter-spacing:1.21px">By cascading installation, you can combine heights freely</div>
<div class="t s" style="left:324.5px;top:696.3px">Press up and down buckle type</div>
<div class="t s" style="left:437.7px;top:721.8px;letter-spacing:1.8px">installation</div>
</body></html>
